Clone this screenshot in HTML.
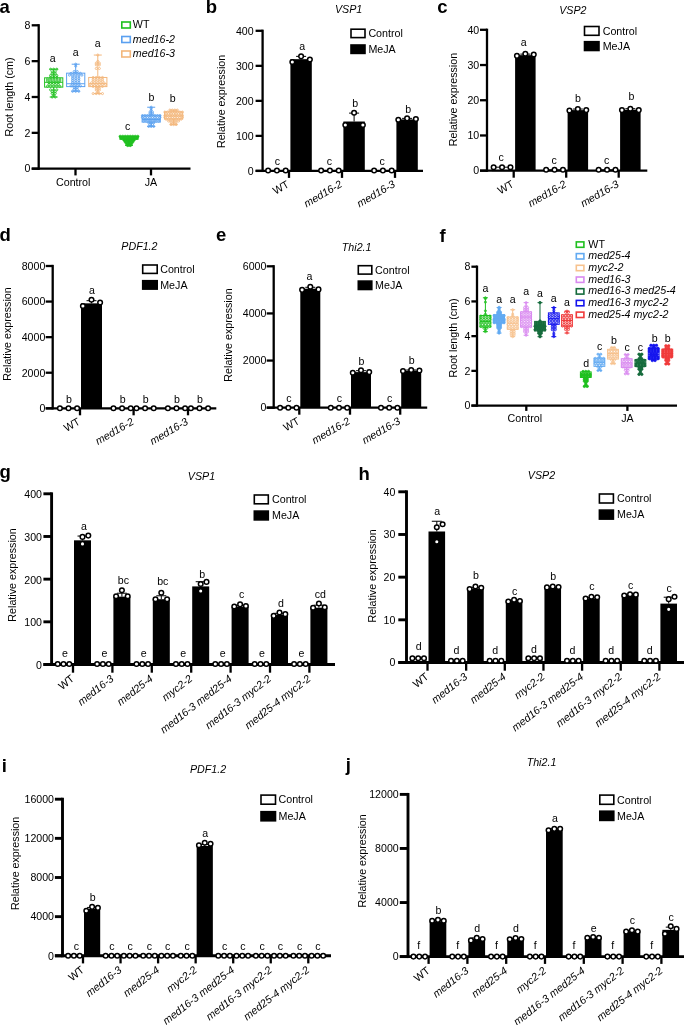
<!DOCTYPE html>
<html lang="en">
<head>
<meta charset="utf-8">
<title>Figure: JA responses in med16, med25 and myc2 mutants</title>
<style>
html,body{margin:0;padding:0;background:#fff;}
body{width:685px;height:1025px;overflow:hidden;}
svg{display:block;font-family:'Liberation Sans', Arial, sans-serif;}
svg text{white-space:pre;}
</style>
</head>
<body>
<svg width="685" height="1025" viewBox="0 0 685 1025">
<rect x="0" y="0" width="685" height="1025" fill="#ffffff"/>
<text x="-0.6" y="13.3" font-size="18.5" text-anchor="start" font-weight="bold" fill="#000">a</text>
<g stroke="#1fc01f" stroke-width="1" fill="none">
<line x1="53.7" y1="69.22" x2="53.7" y2="77.82"/>
<line x1="53.7" y1="87.14" x2="53.7" y2="97"/>
<line x1="49.7" y1="69.22" x2="57.7" y2="69.22"/>
<line x1="49.7" y1="97" x2="57.7" y2="97"/>
<rect x="44.6" y="77.82" width="18.2" height="9.32"/>
<line x1="44.6" y1="82.3" x2="62.8" y2="82.3"/>
</g>
<g fill="none" stroke="#1fc01f" stroke-width="0.85">
<circle cx="52.15" cy="97" r="1.05"/>
<circle cx="55.25" cy="97" r="1.05"/>
<circle cx="53.7" cy="95.21" r="1.05"/>
<circle cx="52.15" cy="93.41" r="1.05"/>
<circle cx="55.25" cy="93.41" r="1.05"/>
<circle cx="52.15" cy="91.62" r="1.05"/>
<circle cx="55.25" cy="91.62" r="1.05"/>
<circle cx="50.6" cy="89.83" r="1.05"/>
<circle cx="53.7" cy="89.83" r="1.05"/>
<circle cx="56.8" cy="89.83" r="1.05"/>
<circle cx="47.5" cy="86.25" r="1.05"/>
<circle cx="50.6" cy="86.25" r="1.05"/>
<circle cx="53.7" cy="86.25" r="1.05"/>
<circle cx="56.8" cy="86.25" r="1.05"/>
<circle cx="59.9" cy="86.25" r="1.05"/>
<circle cx="49.05" cy="84.45" r="1.05"/>
<circle cx="52.15" cy="84.45" r="1.05"/>
<circle cx="55.25" cy="84.45" r="1.05"/>
<circle cx="58.35" cy="84.45" r="1.05"/>
<circle cx="49.05" cy="82.66" r="1.05"/>
<circle cx="52.15" cy="82.66" r="1.05"/>
<circle cx="55.25" cy="82.66" r="1.05"/>
<circle cx="58.35" cy="82.66" r="1.05"/>
<circle cx="47.5" cy="80.87" r="1.05"/>
<circle cx="50.6" cy="80.87" r="1.05"/>
<circle cx="53.7" cy="80.87" r="1.05"/>
<circle cx="56.8" cy="80.87" r="1.05"/>
<circle cx="59.9" cy="80.87" r="1.05"/>
<circle cx="47.5" cy="79.08" r="1.05"/>
<circle cx="50.6" cy="79.08" r="1.05"/>
<circle cx="53.7" cy="79.08" r="1.05"/>
<circle cx="56.8" cy="79.08" r="1.05"/>
<circle cx="59.9" cy="79.08" r="1.05"/>
<circle cx="50.6" cy="77.28" r="1.05"/>
<circle cx="53.7" cy="77.28" r="1.05"/>
<circle cx="56.8" cy="77.28" r="1.05"/>
<circle cx="50.6" cy="75.49" r="1.05"/>
<circle cx="53.7" cy="75.49" r="1.05"/>
<circle cx="56.8" cy="75.49" r="1.05"/>
<circle cx="52.15" cy="73.7" r="1.05"/>
<circle cx="55.25" cy="73.7" r="1.05"/>
<circle cx="52.15" cy="71.91" r="1.05"/>
<circle cx="55.25" cy="71.91" r="1.05"/>
<circle cx="50.6" cy="69.22" r="1.05"/>
<circle cx="53.7" cy="69.22" r="1.05"/>
<circle cx="56.8" cy="69.22" r="1.05"/>
</g>
<text x="52.7" y="62.2" font-size="10.6" text-anchor="middle" fill="#000">a</text>
<g stroke="#5aa0f0" stroke-width="1" fill="none">
<line x1="75.7" y1="64.2" x2="75.7" y2="73.16"/>
<line x1="75.7" y1="86.6" x2="75.7" y2="91.26"/>
<line x1="71.7" y1="64.2" x2="79.7" y2="64.2"/>
<line x1="71.7" y1="91.26" x2="79.7" y2="91.26"/>
<rect x="66.6" y="73.16" width="18.2" height="13.44"/>
<line x1="66.6" y1="83.74" x2="84.8" y2="83.74"/>
</g>
<g fill="none" stroke="#5aa0f0" stroke-width="0.85">
<circle cx="72.6" cy="91.26" r="1.05"/>
<circle cx="75.7" cy="91.26" r="1.05"/>
<circle cx="78.8" cy="91.26" r="1.05"/>
<circle cx="74.15" cy="89.47" r="1.05"/>
<circle cx="77.25" cy="89.47" r="1.05"/>
<circle cx="74.15" cy="87.68" r="1.05"/>
<circle cx="77.25" cy="87.68" r="1.05"/>
<circle cx="71.05" cy="85.89" r="1.05"/>
<circle cx="74.15" cy="85.89" r="1.05"/>
<circle cx="77.25" cy="85.89" r="1.05"/>
<circle cx="80.35" cy="85.89" r="1.05"/>
<circle cx="72.6" cy="84.09" r="1.05"/>
<circle cx="75.7" cy="84.09" r="1.05"/>
<circle cx="78.8" cy="84.09" r="1.05"/>
<circle cx="72.6" cy="82.3" r="1.05"/>
<circle cx="75.7" cy="82.3" r="1.05"/>
<circle cx="78.8" cy="82.3" r="1.05"/>
<circle cx="72.6" cy="80.51" r="1.05"/>
<circle cx="75.7" cy="80.51" r="1.05"/>
<circle cx="78.8" cy="80.51" r="1.05"/>
<circle cx="72.6" cy="78.72" r="1.05"/>
<circle cx="75.7" cy="78.72" r="1.05"/>
<circle cx="78.8" cy="78.72" r="1.05"/>
<circle cx="72.6" cy="76.92" r="1.05"/>
<circle cx="75.7" cy="76.92" r="1.05"/>
<circle cx="78.8" cy="76.92" r="1.05"/>
<circle cx="69.5" cy="75.13" r="1.05"/>
<circle cx="72.6" cy="75.13" r="1.05"/>
<circle cx="75.7" cy="75.13" r="1.05"/>
<circle cx="78.8" cy="75.13" r="1.05"/>
<circle cx="81.9" cy="75.13" r="1.05"/>
<circle cx="71.05" cy="73.34" r="1.05"/>
<circle cx="74.15" cy="73.34" r="1.05"/>
<circle cx="77.25" cy="73.34" r="1.05"/>
<circle cx="80.35" cy="73.34" r="1.05"/>
<circle cx="74.15" cy="71.55" r="1.05"/>
<circle cx="77.25" cy="71.55" r="1.05"/>
<circle cx="75.7" cy="66.17" r="1.05"/>
<circle cx="75.7" cy="64.2" r="1.05"/>
</g>
<text x="75.7" y="56" font-size="10.6" text-anchor="middle" fill="#000">a</text>
<g stroke="#f3b77c" stroke-width="1" fill="none">
<line x1="97.8" y1="55.06" x2="97.8" y2="77.46"/>
<line x1="97.8" y1="86.6" x2="97.8" y2="93.59"/>
<line x1="93.8" y1="55.06" x2="101.8" y2="55.06"/>
<line x1="93.8" y1="93.59" x2="101.8" y2="93.59"/>
<rect x="88.7" y="77.46" width="18.2" height="9.14"/>
<line x1="88.7" y1="83.74" x2="106.9" y2="83.74"/>
</g>
<g fill="none" stroke="#f3b77c" stroke-width="0.85">
<circle cx="93.15" cy="93.59" r="1.05"/>
<circle cx="96.25" cy="93.59" r="1.05"/>
<circle cx="99.35" cy="93.59" r="1.05"/>
<circle cx="102.45" cy="93.59" r="1.05"/>
<circle cx="97.8" cy="91.8" r="1.05"/>
<circle cx="96.25" cy="90.01" r="1.05"/>
<circle cx="99.35" cy="90.01" r="1.05"/>
<circle cx="96.25" cy="88.22" r="1.05"/>
<circle cx="99.35" cy="88.22" r="1.05"/>
<circle cx="93.15" cy="86.42" r="1.05"/>
<circle cx="96.25" cy="86.42" r="1.05"/>
<circle cx="99.35" cy="86.42" r="1.05"/>
<circle cx="102.45" cy="86.42" r="1.05"/>
<circle cx="90.05" cy="84.63" r="1.05"/>
<circle cx="93.15" cy="84.63" r="1.05"/>
<circle cx="96.25" cy="84.63" r="1.05"/>
<circle cx="99.35" cy="84.63" r="1.05"/>
<circle cx="102.45" cy="84.63" r="1.05"/>
<circle cx="105.55" cy="84.63" r="1.05"/>
<circle cx="91.6" cy="82.84" r="1.05"/>
<circle cx="94.7" cy="82.84" r="1.05"/>
<circle cx="97.8" cy="82.84" r="1.05"/>
<circle cx="100.9" cy="82.84" r="1.05"/>
<circle cx="104" cy="82.84" r="1.05"/>
<circle cx="93.15" cy="81.05" r="1.05"/>
<circle cx="96.25" cy="81.05" r="1.05"/>
<circle cx="99.35" cy="81.05" r="1.05"/>
<circle cx="102.45" cy="81.05" r="1.05"/>
<circle cx="93.15" cy="79.25" r="1.05"/>
<circle cx="96.25" cy="79.25" r="1.05"/>
<circle cx="99.35" cy="79.25" r="1.05"/>
<circle cx="102.45" cy="79.25" r="1.05"/>
<circle cx="93.15" cy="77.46" r="1.05"/>
<circle cx="96.25" cy="77.46" r="1.05"/>
<circle cx="99.35" cy="77.46" r="1.05"/>
<circle cx="102.45" cy="77.46" r="1.05"/>
<circle cx="96.25" cy="68.5" r="1.05"/>
<circle cx="99.35" cy="68.5" r="1.05"/>
<circle cx="96.25" cy="64.91" r="1.05"/>
<circle cx="99.35" cy="64.91" r="1.05"/>
<circle cx="96.25" cy="63.12" r="1.05"/>
<circle cx="99.35" cy="63.12" r="1.05"/>
<circle cx="97.8" cy="61.33" r="1.05"/>
<circle cx="97.8" cy="55.06" r="1.05"/>
</g>
<text x="97.8" y="47.2" font-size="10.6" text-anchor="middle" fill="#000">a</text>
<g stroke="#1fc01f" stroke-width="1" fill="none">
<line x1="129" y1="136.44" x2="129" y2="136.44"/>
<line x1="129" y1="139.3" x2="129" y2="145.4"/>
<line x1="125" y1="136.44" x2="133" y2="136.44"/>
<line x1="125" y1="145.4" x2="133" y2="145.4"/>
<rect x="119.9" y="136.44" width="18.2" height="2.87"/>
<line x1="119.9" y1="138.23" x2="138.1" y2="138.23"/>
</g>
<g fill="#1fc01f" stroke="#1fc01f" stroke-width="0.6">
<circle cx="127.75" cy="145.4" r="1.3"/>
<circle cx="130.25" cy="145.4" r="1.3"/>
<circle cx="126.5" cy="143.6" r="1.3"/>
<circle cx="129" cy="143.6" r="1.3"/>
<circle cx="131.5" cy="143.6" r="1.3"/>
<circle cx="125.25" cy="141.81" r="1.3"/>
<circle cx="127.75" cy="141.81" r="1.3"/>
<circle cx="130.25" cy="141.81" r="1.3"/>
<circle cx="132.75" cy="141.81" r="1.3"/>
<circle cx="124" cy="140.02" r="1.3"/>
<circle cx="126.5" cy="140.02" r="1.3"/>
<circle cx="129" cy="140.02" r="1.3"/>
<circle cx="131.5" cy="140.02" r="1.3"/>
<circle cx="134" cy="140.02" r="1.3"/>
<circle cx="121.5" cy="138.23" r="1.3"/>
<circle cx="124" cy="138.23" r="1.3"/>
<circle cx="126.5" cy="138.23" r="1.3"/>
<circle cx="129" cy="138.23" r="1.3"/>
<circle cx="131.5" cy="138.23" r="1.3"/>
<circle cx="134" cy="138.23" r="1.3"/>
<circle cx="136.5" cy="138.23" r="1.3"/>
<circle cx="120.25" cy="136.44" r="1.3"/>
<circle cx="122.75" cy="136.44" r="1.3"/>
<circle cx="125.25" cy="136.44" r="1.3"/>
<circle cx="127.75" cy="136.44" r="1.3"/>
<circle cx="130.25" cy="136.44" r="1.3"/>
<circle cx="132.75" cy="136.44" r="1.3"/>
<circle cx="135.25" cy="136.44" r="1.3"/>
<circle cx="137.75" cy="136.44" r="1.3"/>
</g>
<text x="127.7" y="129.5" font-size="10.6" text-anchor="middle" fill="#000">c</text>
<g stroke="#5aa0f0" stroke-width="1" fill="none">
<line x1="151.2" y1="107.22" x2="151.2" y2="115.28"/>
<line x1="151.2" y1="122.09" x2="151.2" y2="126.4"/>
<line x1="147.2" y1="107.22" x2="155.2" y2="107.22"/>
<line x1="147.2" y1="126.4" x2="155.2" y2="126.4"/>
<rect x="142.1" y="115.28" width="18.2" height="6.81"/>
<line x1="142.1" y1="119.41" x2="160.3" y2="119.41"/>
</g>
<g fill="none" stroke="#5aa0f0" stroke-width="0.85">
<circle cx="148.7" cy="126.4" r="1.05"/>
<circle cx="151.2" cy="126.4" r="1.05"/>
<circle cx="153.7" cy="126.4" r="1.05"/>
<circle cx="149.95" cy="124.6" r="1.05"/>
<circle cx="152.45" cy="124.6" r="1.05"/>
<circle cx="148.7" cy="122.81" r="1.05"/>
<circle cx="151.2" cy="122.81" r="1.05"/>
<circle cx="153.7" cy="122.81" r="1.05"/>
<circle cx="143.7" cy="121.02" r="1.05"/>
<circle cx="146.2" cy="121.02" r="1.05"/>
<circle cx="148.7" cy="121.02" r="1.05"/>
<circle cx="151.2" cy="121.02" r="1.05"/>
<circle cx="153.7" cy="121.02" r="1.05"/>
<circle cx="156.2" cy="121.02" r="1.05"/>
<circle cx="158.7" cy="121.02" r="1.05"/>
<circle cx="143.7" cy="119.23" r="1.05"/>
<circle cx="146.2" cy="119.23" r="1.05"/>
<circle cx="148.7" cy="119.23" r="1.05"/>
<circle cx="151.2" cy="119.23" r="1.05"/>
<circle cx="153.7" cy="119.23" r="1.05"/>
<circle cx="156.2" cy="119.23" r="1.05"/>
<circle cx="158.7" cy="119.23" r="1.05"/>
<circle cx="142.45" cy="117.43" r="1.05"/>
<circle cx="144.95" cy="117.43" r="1.05"/>
<circle cx="147.45" cy="117.43" r="1.05"/>
<circle cx="149.95" cy="117.43" r="1.05"/>
<circle cx="152.45" cy="117.43" r="1.05"/>
<circle cx="154.95" cy="117.43" r="1.05"/>
<circle cx="157.45" cy="117.43" r="1.05"/>
<circle cx="159.95" cy="117.43" r="1.05"/>
<circle cx="142.45" cy="115.64" r="1.05"/>
<circle cx="144.95" cy="115.64" r="1.05"/>
<circle cx="147.45" cy="115.64" r="1.05"/>
<circle cx="149.95" cy="115.64" r="1.05"/>
<circle cx="152.45" cy="115.64" r="1.05"/>
<circle cx="154.95" cy="115.64" r="1.05"/>
<circle cx="157.45" cy="115.64" r="1.05"/>
<circle cx="159.95" cy="115.64" r="1.05"/>
<circle cx="149.95" cy="113.85" r="1.05"/>
<circle cx="152.45" cy="113.85" r="1.05"/>
<circle cx="149.95" cy="112.06" r="1.05"/>
<circle cx="152.45" cy="112.06" r="1.05"/>
<circle cx="151.2" cy="110.26" r="1.05"/>
<circle cx="151.2" cy="108.47" r="1.05"/>
<circle cx="151.2" cy="107.22" r="1.05"/>
</g>
<text x="151.5" y="100.9" font-size="10.6" text-anchor="middle" fill="#000">b</text>
<g stroke="#f3b77c" stroke-width="1" fill="none">
<line x1="173.6" y1="110.09" x2="173.6" y2="111.88"/>
<line x1="173.6" y1="119.05" x2="173.6" y2="124.6"/>
<line x1="169.6" y1="110.09" x2="177.6" y2="110.09"/>
<line x1="169.6" y1="124.6" x2="177.6" y2="124.6"/>
<rect x="164.5" y="111.88" width="18.2" height="7.17"/>
<line x1="164.5" y1="115.82" x2="182.7" y2="115.82"/>
</g>
<g fill="none" stroke="#f3b77c" stroke-width="0.85">
<circle cx="171.1" cy="124.6" r="1.05"/>
<circle cx="173.6" cy="124.6" r="1.05"/>
<circle cx="176.1" cy="124.6" r="1.05"/>
<circle cx="171.1" cy="122.81" r="1.05"/>
<circle cx="173.6" cy="122.81" r="1.05"/>
<circle cx="176.1" cy="122.81" r="1.05"/>
<circle cx="168.6" cy="121.02" r="1.05"/>
<circle cx="171.1" cy="121.02" r="1.05"/>
<circle cx="173.6" cy="121.02" r="1.05"/>
<circle cx="176.1" cy="121.02" r="1.05"/>
<circle cx="178.6" cy="121.02" r="1.05"/>
<circle cx="166.1" cy="119.23" r="1.05"/>
<circle cx="168.6" cy="119.23" r="1.05"/>
<circle cx="171.1" cy="119.23" r="1.05"/>
<circle cx="173.6" cy="119.23" r="1.05"/>
<circle cx="176.1" cy="119.23" r="1.05"/>
<circle cx="178.6" cy="119.23" r="1.05"/>
<circle cx="181.1" cy="119.23" r="1.05"/>
<circle cx="164.85" cy="117.43" r="1.05"/>
<circle cx="167.35" cy="117.43" r="1.05"/>
<circle cx="169.85" cy="117.43" r="1.05"/>
<circle cx="172.35" cy="117.43" r="1.05"/>
<circle cx="174.85" cy="117.43" r="1.05"/>
<circle cx="177.35" cy="117.43" r="1.05"/>
<circle cx="179.85" cy="117.43" r="1.05"/>
<circle cx="182.35" cy="117.43" r="1.05"/>
<circle cx="164.85" cy="115.64" r="1.05"/>
<circle cx="167.35" cy="115.64" r="1.05"/>
<circle cx="169.85" cy="115.64" r="1.05"/>
<circle cx="172.35" cy="115.64" r="1.05"/>
<circle cx="174.85" cy="115.64" r="1.05"/>
<circle cx="177.35" cy="115.64" r="1.05"/>
<circle cx="179.85" cy="115.64" r="1.05"/>
<circle cx="182.35" cy="115.64" r="1.05"/>
<circle cx="166.1" cy="113.85" r="1.05"/>
<circle cx="168.6" cy="113.85" r="1.05"/>
<circle cx="171.1" cy="113.85" r="1.05"/>
<circle cx="173.6" cy="113.85" r="1.05"/>
<circle cx="176.1" cy="113.85" r="1.05"/>
<circle cx="178.6" cy="113.85" r="1.05"/>
<circle cx="181.1" cy="113.85" r="1.05"/>
<circle cx="164.85" cy="112.06" r="1.05"/>
<circle cx="167.35" cy="112.06" r="1.05"/>
<circle cx="169.85" cy="112.06" r="1.05"/>
<circle cx="172.35" cy="112.06" r="1.05"/>
<circle cx="174.85" cy="112.06" r="1.05"/>
<circle cx="177.35" cy="112.06" r="1.05"/>
<circle cx="179.85" cy="112.06" r="1.05"/>
<circle cx="182.35" cy="112.06" r="1.05"/>
<circle cx="169.85" cy="110.09" r="1.05"/>
<circle cx="172.35" cy="110.09" r="1.05"/>
<circle cx="174.85" cy="110.09" r="1.05"/>
<circle cx="177.35" cy="110.09" r="1.05"/>
</g>
<text x="172.8" y="102.3" font-size="10.6" text-anchor="middle" fill="#000">b</text>
<line x1="31.7" y1="168.7" x2="190.5" y2="168.7" stroke="#000" stroke-width="2.3" stroke-linecap="butt"/>
<line x1="75.5" y1="168.7" x2="75.5" y2="175.4" stroke="#000" stroke-width="2.3" stroke-linecap="butt"/>
<text x="73.2" y="185.8" font-size="10.7" text-anchor="middle" fill="#000">Control</text>
<line x1="151" y1="168.7" x2="151" y2="175.4" stroke="#000" stroke-width="2.3" stroke-linecap="butt"/>
<text x="151" y="185.8" font-size="10.7" text-anchor="middle" fill="#000">JA</text>
<line x1="38.7" y1="24.15" x2="38.7" y2="169.85" stroke="#000" stroke-width="2.3" stroke-linecap="butt"/>
<line x1="31.7" y1="168.7" x2="38.7" y2="168.7" stroke="#000" stroke-width="2.3" stroke-linecap="butt"/>
<text x="30.5" y="172.49" font-size="10.6" text-anchor="end" fill="#000">0</text>
<line x1="31.7" y1="132.85" x2="38.7" y2="132.85" stroke="#000" stroke-width="2.3" stroke-linecap="butt"/>
<text x="30.5" y="136.64" font-size="10.6" text-anchor="end" fill="#000">2</text>
<line x1="31.7" y1="97" x2="38.7" y2="97" stroke="#000" stroke-width="2.3" stroke-linecap="butt"/>
<text x="30.5" y="100.79" font-size="10.6" text-anchor="end" fill="#000">4</text>
<line x1="31.7" y1="61.15" x2="38.7" y2="61.15" stroke="#000" stroke-width="2.3" stroke-linecap="butt"/>
<text x="30.5" y="64.94" font-size="10.6" text-anchor="end" fill="#000">6</text>
<line x1="31.7" y1="25.3" x2="38.7" y2="25.3" stroke="#000" stroke-width="2.3" stroke-linecap="butt"/>
<text x="30.5" y="29.09" font-size="10.6" text-anchor="end" fill="#000">8</text>
<text x="12.8" y="97" font-size="10.7" text-anchor="middle" transform="rotate(-90 12.8 97)" fill="#000">Root length (cm)</text>
<rect x="121.8" y="22" width="8.5" height="6" fill="none" stroke="#1fc01f" stroke-width="1.6"/>
<text x="132.8" y="28.2" font-size="10.7" text-anchor="start" fill="#000">WT</text>
<rect x="121.8" y="36.5" width="8.5" height="6" fill="none" stroke="#5aa0f0" stroke-width="1.6"/>
<text x="132.8" y="42.7" font-size="10.7" text-anchor="start" font-style="italic" fill="#000">med16-2</text>
<rect x="121.8" y="51" width="8.5" height="6" fill="none" stroke="#f3b77c" stroke-width="1.6"/>
<text x="132.8" y="57.2" font-size="10.7" text-anchor="start" font-style="italic" fill="#000">med16-3</text>
<text x="205.8" y="13.3" font-size="18.5" text-anchor="start" font-weight="bold" fill="#000">b</text>
<text x="348.6" y="13.4" font-size="10.7" text-anchor="middle" font-style="italic" fill="#000">VSP1</text>
<rect x="290.4" y="59.17" width="21.4" height="111.73" fill="#000" stroke="none" stroke-width="1"/>
<line x1="301.1" y1="56.37" x2="301.1" y2="59.17" stroke="#000" stroke-width="1" stroke-linecap="butt"/>
<line x1="296.1" y1="56.37" x2="306.1" y2="56.37" stroke="#000" stroke-width="1" stroke-linecap="butt"/>
<rect x="343.4" y="121.51" width="21.4" height="49.39" fill="#000" stroke="none" stroke-width="1"/>
<line x1="354.1" y1="113.11" x2="354.1" y2="121.51" stroke="#000" stroke-width="1" stroke-linecap="butt"/>
<line x1="349.1" y1="113.11" x2="359.1" y2="113.11" stroke="#000" stroke-width="1" stroke-linecap="butt"/>
<rect x="396.4" y="119.41" width="21.4" height="51.49" fill="#000" stroke="none" stroke-width="1"/>
<line x1="407.1" y1="118.36" x2="407.1" y2="119.41" stroke="#000" stroke-width="1" stroke-linecap="butt"/>
<line x1="402.1" y1="118.36" x2="412.1" y2="118.36" stroke="#000" stroke-width="1" stroke-linecap="butt"/>
<line x1="255.6" y1="170.9" x2="423" y2="170.9" stroke="#000" stroke-width="2.3" stroke-linecap="butt"/>
<line x1="289" y1="170.9" x2="289" y2="177.9" stroke="#000" stroke-width="2.3" stroke-linecap="butt"/>
<line x1="342" y1="170.9" x2="342" y2="177.9" stroke="#000" stroke-width="2.3" stroke-linecap="butt"/>
<line x1="395" y1="170.9" x2="395" y2="177.9" stroke="#000" stroke-width="2.3" stroke-linecap="butt"/>
<line x1="262.6" y1="29.65" x2="262.6" y2="172.05" stroke="#000" stroke-width="2.3" stroke-linecap="butt"/>
<line x1="255.6" y1="170.9" x2="262.6" y2="170.9" stroke="#000" stroke-width="2.3" stroke-linecap="butt"/>
<text x="253.6" y="174.69" font-size="10.6" text-anchor="end" fill="#000">0</text>
<line x1="255.6" y1="135.88" x2="262.6" y2="135.88" stroke="#000" stroke-width="2.3" stroke-linecap="butt"/>
<text x="253.6" y="139.67" font-size="10.6" text-anchor="end" fill="#000">100</text>
<line x1="255.6" y1="100.85" x2="262.6" y2="100.85" stroke="#000" stroke-width="2.3" stroke-linecap="butt"/>
<text x="253.6" y="104.64" font-size="10.6" text-anchor="end" fill="#000">200</text>
<line x1="255.6" y1="65.83" x2="262.6" y2="65.83" stroke="#000" stroke-width="2.3" stroke-linecap="butt"/>
<text x="253.6" y="69.62" font-size="10.6" text-anchor="end" fill="#000">300</text>
<line x1="255.6" y1="30.8" x2="262.6" y2="30.8" stroke="#000" stroke-width="2.3" stroke-linecap="butt"/>
<text x="253.6" y="34.59" font-size="10.6" text-anchor="end" fill="#000">400</text>
<text x="225" y="101.4" font-size="10.7" text-anchor="middle" transform="rotate(-90 225 101.4)" fill="#000">Relative expression</text>
<circle cx="268.13" cy="170.55" r="2.3" fill="#fff" stroke="#000" stroke-width="1.5"/>
<circle cx="276.9" cy="170.55" r="2.3" fill="#fff" stroke="#000" stroke-width="1.5"/>
<circle cx="285.67" cy="170.55" r="2.3" fill="#fff" stroke="#000" stroke-width="1.5"/>
<circle cx="292.33" cy="61.97" r="2.3" fill="#fff" stroke="#000" stroke-width="1.5"/>
<circle cx="301.1" cy="56.37" r="2.3" fill="#fff" stroke="#000" stroke-width="1.5"/>
<circle cx="309.87" cy="59.52" r="2.3" fill="#fff" stroke="#000" stroke-width="1.5"/>
<text x="277.4" y="165.05" font-size="10.6" text-anchor="middle" fill="#000">c</text>
<text x="302.1" y="49.87" font-size="10.6" text-anchor="middle" fill="#000">a</text>
<text x="290" y="186.4" font-size="10.7" text-anchor="end" transform="rotate(-30 290 186.4)" fill="#000">WT</text>
<circle cx="321.13" cy="170.55" r="2.3" fill="#fff" stroke="#000" stroke-width="1.5"/>
<circle cx="329.9" cy="170.55" r="2.3" fill="#fff" stroke="#000" stroke-width="1.5"/>
<circle cx="338.67" cy="170.55" r="2.3" fill="#fff" stroke="#000" stroke-width="1.5"/>
<circle cx="345.33" cy="125.02" r="2.3" fill="#fff" stroke="#000" stroke-width="1.5"/>
<circle cx="354.1" cy="112.76" r="2.3" fill="#fff" stroke="#000" stroke-width="1.5"/>
<circle cx="362.87" cy="125.02" r="2.3" fill="#fff" stroke="#000" stroke-width="1.5"/>
<text x="329.4" y="165.05" font-size="10.6" text-anchor="middle" fill="#000">c</text>
<text x="355.1" y="107.26" font-size="10.6" text-anchor="middle" fill="#000">b</text>
<text x="343" y="186.4" font-size="10.7" text-anchor="end" font-style="italic" transform="rotate(-30 343 186.4)" fill="#000">med16-2</text>
<circle cx="374.13" cy="170.55" r="2.3" fill="#fff" stroke="#000" stroke-width="1.5"/>
<circle cx="382.9" cy="170.55" r="2.3" fill="#fff" stroke="#000" stroke-width="1.5"/>
<circle cx="391.67" cy="170.55" r="2.3" fill="#fff" stroke="#000" stroke-width="1.5"/>
<circle cx="398.33" cy="119.76" r="2.3" fill="#fff" stroke="#000" stroke-width="1.5"/>
<circle cx="407.1" cy="118.36" r="2.3" fill="#fff" stroke="#000" stroke-width="1.5"/>
<circle cx="415.87" cy="119.06" r="2.3" fill="#fff" stroke="#000" stroke-width="1.5"/>
<text x="382.2" y="165.05" font-size="10.6" text-anchor="middle" fill="#000">c</text>
<text x="408.1" y="112.86" font-size="10.6" text-anchor="middle" fill="#000">b</text>
<text x="396" y="186.4" font-size="10.7" text-anchor="end" font-style="italic" transform="rotate(-30 396 186.4)" fill="#000">med16-3</text>
<rect x="351" y="29.2" width="14" height="8.4" fill="#fff" stroke="#000" stroke-width="1.6"/>
<text x="368.4" y="37.23" font-size="10.7" text-anchor="start" fill="#000">Control</text>
<rect x="351" y="45" width="14" height="8.4" fill="#000" stroke="#000" stroke-width="1.6"/>
<text x="368.4" y="53.03" font-size="10.7" text-anchor="start" fill="#000">MeJA</text>
<text x="437.3" y="13.3" font-size="18.5" text-anchor="start" font-weight="bold" fill="#000">c</text>
<text x="572.8" y="13.7" font-size="10.7" text-anchor="middle" font-style="italic" fill="#000">VSP2</text>
<rect x="492.3" y="167.18" width="19.5" height="3.52" fill="#fff" stroke="#000" stroke-width="1"/>
<rect x="515.1" y="55.16" width="20.5" height="115.54" fill="#000" stroke="none" stroke-width="1"/>
<line x1="525.35" y1="54.11" x2="525.35" y2="55.16" stroke="#000" stroke-width="1" stroke-linecap="butt"/>
<line x1="520.35" y1="54.11" x2="530.35" y2="54.11" stroke="#000" stroke-width="1" stroke-linecap="butt"/>
<rect x="544.8" y="169.82" width="19.5" height="0.88" fill="#fff" stroke="#000" stroke-width="1"/>
<rect x="567.6" y="110.11" width="20.5" height="60.59" fill="#000" stroke="none" stroke-width="1"/>
<line x1="577.85" y1="109.06" x2="577.85" y2="110.11" stroke="#000" stroke-width="1" stroke-linecap="butt"/>
<line x1="572.85" y1="109.06" x2="582.85" y2="109.06" stroke="#000" stroke-width="1" stroke-linecap="butt"/>
<rect x="597.3" y="169.82" width="19.5" height="0.88" fill="#fff" stroke="#000" stroke-width="1"/>
<rect x="620.1" y="109.76" width="20.5" height="60.94" fill="#000" stroke="none" stroke-width="1"/>
<line x1="630.35" y1="108.7" x2="630.35" y2="109.76" stroke="#000" stroke-width="1" stroke-linecap="butt"/>
<line x1="625.35" y1="108.7" x2="635.35" y2="108.7" stroke="#000" stroke-width="1" stroke-linecap="butt"/>
<line x1="480" y1="170.7" x2="647.3" y2="170.7" stroke="#000" stroke-width="2.3" stroke-linecap="butt"/>
<line x1="513.7" y1="170.7" x2="513.7" y2="177.7" stroke="#000" stroke-width="2.3" stroke-linecap="butt"/>
<line x1="566.2" y1="170.7" x2="566.2" y2="177.7" stroke="#000" stroke-width="2.3" stroke-linecap="butt"/>
<line x1="618.7" y1="170.7" x2="618.7" y2="177.7" stroke="#000" stroke-width="2.3" stroke-linecap="butt"/>
<line x1="487" y1="28.65" x2="487" y2="171.85" stroke="#000" stroke-width="2.3" stroke-linecap="butt"/>
<line x1="480" y1="170.7" x2="487" y2="170.7" stroke="#000" stroke-width="2.3" stroke-linecap="butt"/>
<text x="479.2" y="174.49" font-size="10.6" text-anchor="end" fill="#000">0</text>
<line x1="480" y1="135.47" x2="487" y2="135.47" stroke="#000" stroke-width="2.3" stroke-linecap="butt"/>
<text x="479.2" y="139.27" font-size="10.6" text-anchor="end" fill="#000">10</text>
<line x1="480" y1="100.25" x2="487" y2="100.25" stroke="#000" stroke-width="2.3" stroke-linecap="butt"/>
<text x="479.2" y="104.04" font-size="10.6" text-anchor="end" fill="#000">20</text>
<line x1="480" y1="65.03" x2="487" y2="65.03" stroke="#000" stroke-width="2.3" stroke-linecap="butt"/>
<text x="479.2" y="68.82" font-size="10.6" text-anchor="end" fill="#000">30</text>
<line x1="480" y1="29.8" x2="487" y2="29.8" stroke="#000" stroke-width="2.3" stroke-linecap="butt"/>
<text x="479.2" y="33.59" font-size="10.6" text-anchor="end" fill="#000">40</text>
<text x="457" y="99.5" font-size="10.7" text-anchor="middle" transform="rotate(-90 457 99.5)" fill="#000">Relative expression</text>
<circle cx="493.65" cy="167.18" r="2.3" fill="#fff" stroke="#000" stroke-width="1.5"/>
<circle cx="502.05" cy="167.18" r="2.3" fill="#fff" stroke="#000" stroke-width="1.5"/>
<circle cx="510.46" cy="167.18" r="2.3" fill="#fff" stroke="#000" stroke-width="1.5"/>
<circle cx="516.95" cy="55.87" r="2.3" fill="#fff" stroke="#000" stroke-width="1.5"/>
<circle cx="525.35" cy="53.75" r="2.3" fill="#fff" stroke="#000" stroke-width="1.5"/>
<circle cx="533.75" cy="54.46" r="2.3" fill="#fff" stroke="#000" stroke-width="1.5"/>
<text x="501.05" y="160.98" font-size="10.6" text-anchor="middle" fill="#000">c</text>
<text x="523.65" y="45.65" font-size="10.6" text-anchor="middle" fill="#000">a</text>
<text x="514.7" y="186.2" font-size="10.7" text-anchor="end" transform="rotate(-30 514.7 186.2)" fill="#000">WT</text>
<circle cx="546.15" cy="169.82" r="2.3" fill="#fff" stroke="#000" stroke-width="1.5"/>
<circle cx="554.55" cy="169.82" r="2.3" fill="#fff" stroke="#000" stroke-width="1.5"/>
<circle cx="562.96" cy="169.82" r="2.3" fill="#fff" stroke="#000" stroke-width="1.5"/>
<circle cx="569.45" cy="110.47" r="2.3" fill="#fff" stroke="#000" stroke-width="1.5"/>
<circle cx="577.85" cy="109.06" r="2.3" fill="#fff" stroke="#000" stroke-width="1.5"/>
<circle cx="586.25" cy="110.11" r="2.3" fill="#fff" stroke="#000" stroke-width="1.5"/>
<text x="554.25" y="163.52" font-size="10.6" text-anchor="middle" fill="#000">c</text>
<text x="577.95" y="102.46" font-size="10.6" text-anchor="middle" fill="#000">b</text>
<text x="567.2" y="186.2" font-size="10.7" text-anchor="end" font-style="italic" transform="rotate(-30 567.2 186.2)" fill="#000">med16-2</text>
<circle cx="598.65" cy="169.82" r="2.3" fill="#fff" stroke="#000" stroke-width="1.5"/>
<circle cx="607.05" cy="169.82" r="2.3" fill="#fff" stroke="#000" stroke-width="1.5"/>
<circle cx="615.46" cy="169.82" r="2.3" fill="#fff" stroke="#000" stroke-width="1.5"/>
<circle cx="621.95" cy="110.11" r="2.3" fill="#fff" stroke="#000" stroke-width="1.5"/>
<circle cx="630.35" cy="108.7" r="2.3" fill="#fff" stroke="#000" stroke-width="1.5"/>
<circle cx="638.75" cy="110.11" r="2.3" fill="#fff" stroke="#000" stroke-width="1.5"/>
<text x="606.75" y="163.52" font-size="10.6" text-anchor="middle" fill="#000">c</text>
<text x="631.45" y="99.8" font-size="10.6" text-anchor="middle" fill="#000">b</text>
<text x="619.7" y="186.2" font-size="10.7" text-anchor="end" font-style="italic" transform="rotate(-30 619.7 186.2)" fill="#000">med16-3</text>
<rect x="584.5" y="26.5" width="14.5" height="8.8" fill="#fff" stroke="#000" stroke-width="1.6"/>
<text x="602.7" y="34.73" font-size="10.7" text-anchor="start" fill="#000">Control</text>
<rect x="584.5" y="41.7" width="14.5" height="8.8" fill="#000" stroke="#000" stroke-width="1.6"/>
<text x="602.7" y="49.93" font-size="10.7" text-anchor="start" fill="#000">MeJA</text>
<text x="-0.5" y="240.8" font-size="18.5" text-anchor="start" font-weight="bold" fill="#000">d</text>
<text x="139.4" y="249.9" font-size="10.7" text-anchor="middle" font-style="italic" fill="#000">PDF1.2</text>
<rect x="81" y="303.35" width="21" height="104.95" fill="#000" stroke="none" stroke-width="1"/>
<line x1="91.5" y1="300.69" x2="91.5" y2="303.35" stroke="#000" stroke-width="1" stroke-linecap="butt"/>
<line x1="86.5" y1="300.69" x2="96.5" y2="300.69" stroke="#000" stroke-width="1" stroke-linecap="butt"/>
<line x1="45.7" y1="408.3" x2="216.3" y2="408.3" stroke="#000" stroke-width="2.3" stroke-linecap="butt"/>
<line x1="80" y1="408.3" x2="80" y2="415.3" stroke="#000" stroke-width="2.3" stroke-linecap="butt"/>
<line x1="133.6" y1="408.3" x2="133.6" y2="415.3" stroke="#000" stroke-width="2.3" stroke-linecap="butt"/>
<line x1="188" y1="408.3" x2="188" y2="415.3" stroke="#000" stroke-width="2.3" stroke-linecap="butt"/>
<line x1="52.7" y1="264.85" x2="52.7" y2="409.45" stroke="#000" stroke-width="2.3" stroke-linecap="butt"/>
<line x1="45.7" y1="408.3" x2="52.7" y2="408.3" stroke="#000" stroke-width="2.3" stroke-linecap="butt"/>
<text x="45.3" y="412.09" font-size="10.6" text-anchor="end" fill="#000">0</text>
<line x1="45.7" y1="372.73" x2="52.7" y2="372.73" stroke="#000" stroke-width="2.3" stroke-linecap="butt"/>
<text x="45.3" y="376.52" font-size="10.6" text-anchor="end" fill="#000">2000</text>
<line x1="45.7" y1="337.15" x2="52.7" y2="337.15" stroke="#000" stroke-width="2.3" stroke-linecap="butt"/>
<text x="45.3" y="340.94" font-size="10.6" text-anchor="end" fill="#000">4000</text>
<line x1="45.7" y1="301.57" x2="52.7" y2="301.57" stroke="#000" stroke-width="2.3" stroke-linecap="butt"/>
<text x="45.3" y="305.37" font-size="10.6" text-anchor="end" fill="#000">6000</text>
<line x1="45.7" y1="266" x2="52.7" y2="266" stroke="#000" stroke-width="2.3" stroke-linecap="butt"/>
<text x="45.3" y="269.79" font-size="10.6" text-anchor="end" fill="#000">8000</text>
<text x="11" y="334" font-size="10.7" text-anchor="middle" transform="rotate(-90 11 334)" fill="#000">Relative expression</text>
<circle cx="59.89" cy="408.28" r="2.3" fill="#fff" stroke="#000" stroke-width="1.5"/>
<circle cx="68.5" cy="408.28" r="2.3" fill="#fff" stroke="#000" stroke-width="1.5"/>
<circle cx="77.11" cy="408.28" r="2.3" fill="#fff" stroke="#000" stroke-width="1.5"/>
<circle cx="82.89" cy="306.02" r="2.3" fill="#fff" stroke="#000" stroke-width="1.5"/>
<circle cx="91.5" cy="299.8" r="2.3" fill="#fff" stroke="#000" stroke-width="1.5"/>
<circle cx="100.11" cy="302.46" r="2.3" fill="#fff" stroke="#000" stroke-width="1.5"/>
<text x="69" y="402.78" font-size="10.6" text-anchor="middle" fill="#000">b</text>
<text x="92" y="294.3" font-size="10.6" text-anchor="middle" fill="#000">a</text>
<text x="81" y="423.8" font-size="10.7" text-anchor="end" transform="rotate(-30 81 423.8)" fill="#000">WT</text>
<circle cx="113.49" cy="408.28" r="2.3" fill="#fff" stroke="#000" stroke-width="1.5"/>
<circle cx="122.1" cy="408.28" r="2.3" fill="#fff" stroke="#000" stroke-width="1.5"/>
<circle cx="130.71" cy="408.28" r="2.3" fill="#fff" stroke="#000" stroke-width="1.5"/>
<circle cx="136.49" cy="408.28" r="2.3" fill="#fff" stroke="#000" stroke-width="1.5"/>
<circle cx="145.1" cy="408.28" r="2.3" fill="#fff" stroke="#000" stroke-width="1.5"/>
<circle cx="153.71" cy="408.28" r="2.3" fill="#fff" stroke="#000" stroke-width="1.5"/>
<text x="122.6" y="402.78" font-size="10.6" text-anchor="middle" fill="#000">b</text>
<text x="145.6" y="402.78" font-size="10.6" text-anchor="middle" fill="#000">b</text>
<text x="134.6" y="423.8" font-size="10.7" text-anchor="end" font-style="italic" transform="rotate(-30 134.6 423.8)" fill="#000">med16-2</text>
<circle cx="167.89" cy="408.28" r="2.3" fill="#fff" stroke="#000" stroke-width="1.5"/>
<circle cx="176.5" cy="408.28" r="2.3" fill="#fff" stroke="#000" stroke-width="1.5"/>
<circle cx="185.11" cy="408.28" r="2.3" fill="#fff" stroke="#000" stroke-width="1.5"/>
<circle cx="190.89" cy="408.28" r="2.3" fill="#fff" stroke="#000" stroke-width="1.5"/>
<circle cx="199.5" cy="408.28" r="2.3" fill="#fff" stroke="#000" stroke-width="1.5"/>
<circle cx="208.11" cy="408.28" r="2.3" fill="#fff" stroke="#000" stroke-width="1.5"/>
<text x="177" y="402.78" font-size="10.6" text-anchor="middle" fill="#000">b</text>
<text x="200" y="402.78" font-size="10.6" text-anchor="middle" fill="#000">b</text>
<text x="189" y="423.8" font-size="10.7" text-anchor="end" font-style="italic" transform="rotate(-30 189 423.8)" fill="#000">med16-3</text>
<rect x="142.7" y="265" width="14.5" height="8.4" fill="#fff" stroke="#000" stroke-width="1.6"/>
<text x="160.2" y="273.03" font-size="10.7" text-anchor="start" fill="#000">Control</text>
<rect x="142.7" y="280.7" width="14.5" height="8.4" fill="#000" stroke="#000" stroke-width="1.6"/>
<text x="160.2" y="288.73" font-size="10.7" text-anchor="start" fill="#000">MeJA</text>
<text x="216" y="240.8" font-size="18.5" text-anchor="start" font-weight="bold" fill="#000">e</text>
<text x="356.7" y="250.6" font-size="10.7" text-anchor="middle" font-style="italic" fill="#000">Thi2.1</text>
<rect x="300.3" y="288.69" width="20" height="119.01" fill="#000" stroke="none" stroke-width="1"/>
<line x1="310.3" y1="287.27" x2="310.3" y2="288.69" stroke="#000" stroke-width="1" stroke-linecap="butt"/>
<line x1="305.3" y1="287.27" x2="315.3" y2="287.27" stroke="#000" stroke-width="1" stroke-linecap="butt"/>
<rect x="351" y="372.11" width="20" height="35.59" fill="#000" stroke="none" stroke-width="1"/>
<line x1="361" y1="370.7" x2="361" y2="372.11" stroke="#000" stroke-width="1" stroke-linecap="butt"/>
<line x1="356" y1="370.7" x2="366" y2="370.7" stroke="#000" stroke-width="1" stroke-linecap="butt"/>
<rect x="401.2" y="370.7" width="20" height="37" fill="#000" stroke="none" stroke-width="1"/>
<line x1="411.2" y1="369.99" x2="411.2" y2="370.7" stroke="#000" stroke-width="1" stroke-linecap="butt"/>
<line x1="406.2" y1="369.99" x2="416.2" y2="369.99" stroke="#000" stroke-width="1" stroke-linecap="butt"/>
<line x1="266.7" y1="407.7" x2="427.2" y2="407.7" stroke="#000" stroke-width="2.3" stroke-linecap="butt"/>
<line x1="299.3" y1="407.7" x2="299.3" y2="414.7" stroke="#000" stroke-width="2.3" stroke-linecap="butt"/>
<line x1="350" y1="407.7" x2="350" y2="414.7" stroke="#000" stroke-width="2.3" stroke-linecap="butt"/>
<line x1="400.2" y1="407.7" x2="400.2" y2="414.7" stroke="#000" stroke-width="2.3" stroke-linecap="butt"/>
<line x1="273.7" y1="265.15" x2="273.7" y2="408.85" stroke="#000" stroke-width="2.3" stroke-linecap="butt"/>
<line x1="266.7" y1="407.7" x2="273.7" y2="407.7" stroke="#000" stroke-width="2.3" stroke-linecap="butt"/>
<text x="266.4" y="411.49" font-size="10.6" text-anchor="end" fill="#000">0</text>
<line x1="266.7" y1="360.57" x2="273.7" y2="360.57" stroke="#000" stroke-width="2.3" stroke-linecap="butt"/>
<text x="266.4" y="364.36" font-size="10.6" text-anchor="end" fill="#000">2000</text>
<line x1="266.7" y1="313.43" x2="273.7" y2="313.43" stroke="#000" stroke-width="2.3" stroke-linecap="butt"/>
<text x="266.4" y="317.23" font-size="10.6" text-anchor="end" fill="#000">4000</text>
<line x1="266.7" y1="266.3" x2="273.7" y2="266.3" stroke="#000" stroke-width="2.3" stroke-linecap="butt"/>
<text x="266.4" y="270.09" font-size="10.6" text-anchor="end" fill="#000">6000</text>
<text x="232" y="335" font-size="10.7" text-anchor="middle" transform="rotate(-90 232 335)" fill="#000">Relative expression</text>
<circle cx="280.1" cy="407.68" r="2.3" fill="#fff" stroke="#000" stroke-width="1.5"/>
<circle cx="288.3" cy="407.68" r="2.3" fill="#fff" stroke="#000" stroke-width="1.5"/>
<circle cx="296.5" cy="407.68" r="2.3" fill="#fff" stroke="#000" stroke-width="1.5"/>
<circle cx="302.1" cy="289.87" r="2.3" fill="#fff" stroke="#000" stroke-width="1.5"/>
<circle cx="310.3" cy="286.8" r="2.3" fill="#fff" stroke="#000" stroke-width="1.5"/>
<circle cx="318.5" cy="289.4" r="2.3" fill="#fff" stroke="#000" stroke-width="1.5"/>
<text x="288.8" y="402.18" font-size="10.6" text-anchor="middle" fill="#000">c</text>
<text x="309.4" y="279.9" font-size="10.6" text-anchor="middle" fill="#000">a</text>
<text x="300.3" y="423.2" font-size="10.7" text-anchor="end" transform="rotate(-30 300.3 423.2)" fill="#000">WT</text>
<circle cx="330.8" cy="407.68" r="2.3" fill="#fff" stroke="#000" stroke-width="1.5"/>
<circle cx="339" cy="407.68" r="2.3" fill="#fff" stroke="#000" stroke-width="1.5"/>
<circle cx="347.2" cy="407.68" r="2.3" fill="#fff" stroke="#000" stroke-width="1.5"/>
<circle cx="352.8" cy="372.82" r="2.3" fill="#fff" stroke="#000" stroke-width="1.5"/>
<circle cx="361" cy="370.23" r="2.3" fill="#fff" stroke="#000" stroke-width="1.5"/>
<circle cx="369.2" cy="372.11" r="2.3" fill="#fff" stroke="#000" stroke-width="1.5"/>
<text x="339.5" y="402.18" font-size="10.6" text-anchor="middle" fill="#000">c</text>
<text x="361.5" y="364.73" font-size="10.6" text-anchor="middle" fill="#000">b</text>
<text x="351" y="423.2" font-size="10.7" text-anchor="end" font-style="italic" transform="rotate(-30 351 423.2)" fill="#000">med16-2</text>
<circle cx="381" cy="407.68" r="2.3" fill="#fff" stroke="#000" stroke-width="1.5"/>
<circle cx="389.2" cy="407.68" r="2.3" fill="#fff" stroke="#000" stroke-width="1.5"/>
<circle cx="397.4" cy="407.68" r="2.3" fill="#fff" stroke="#000" stroke-width="1.5"/>
<circle cx="403" cy="370.94" r="2.3" fill="#fff" stroke="#000" stroke-width="1.5"/>
<circle cx="411.2" cy="369.99" r="2.3" fill="#fff" stroke="#000" stroke-width="1.5"/>
<circle cx="419.4" cy="370.46" r="2.3" fill="#fff" stroke="#000" stroke-width="1.5"/>
<text x="389.7" y="402.18" font-size="10.6" text-anchor="middle" fill="#000">c</text>
<text x="411.7" y="364.49" font-size="10.6" text-anchor="middle" fill="#000">b</text>
<text x="401.2" y="423.2" font-size="10.7" text-anchor="end" font-style="italic" transform="rotate(-30 401.2 423.2)" fill="#000">med16-3</text>
<rect x="358.3" y="265.7" width="13.5" height="8.4" fill="#fff" stroke="#000" stroke-width="1.6"/>
<text x="375.1" y="273.73" font-size="10.7" text-anchor="start" fill="#000">Control</text>
<rect x="358.3" y="281.1" width="13.5" height="8.4" fill="#000" stroke="#000" stroke-width="1.6"/>
<text x="375.1" y="289.13" font-size="10.7" text-anchor="start" fill="#000">MeJA</text>
<text x="439.5" y="242" font-size="18.5" text-anchor="start" font-weight="bold" fill="#000">f</text>
<g stroke="#1fc01f" stroke-width="1" fill="none">
<line x1="485.4" y1="297.78" x2="485.4" y2="315.49"/>
<line x1="485.4" y1="326.95" x2="485.4" y2="331.64"/>
<line x1="482.9" y1="297.78" x2="487.9" y2="297.78"/>
<line x1="482.9" y1="331.64" x2="487.9" y2="331.64"/>
<rect x="480" y="315.49" width="10.8" height="11.46"/>
<line x1="480" y1="321.39" x2="490.8" y2="321.39"/>
</g>
<g fill="none" stroke="#1fc01f" stroke-width="0.85">
<circle cx="485.4" cy="331.64" r="1.05"/>
<circle cx="485.4" cy="329.9" r="1.05"/>
<circle cx="483.9" cy="328.16" r="1.05"/>
<circle cx="486.9" cy="328.16" r="1.05"/>
<circle cx="480.9" cy="326.43" r="1.05"/>
<circle cx="483.9" cy="326.43" r="1.05"/>
<circle cx="486.9" cy="326.43" r="1.05"/>
<circle cx="489.9" cy="326.43" r="1.05"/>
<circle cx="482.4" cy="324.69" r="1.05"/>
<circle cx="485.4" cy="324.69" r="1.05"/>
<circle cx="488.4" cy="324.69" r="1.05"/>
<circle cx="480.9" cy="322.95" r="1.05"/>
<circle cx="483.9" cy="322.95" r="1.05"/>
<circle cx="486.9" cy="322.95" r="1.05"/>
<circle cx="489.9" cy="322.95" r="1.05"/>
<circle cx="482.4" cy="321.22" r="1.05"/>
<circle cx="485.4" cy="321.22" r="1.05"/>
<circle cx="488.4" cy="321.22" r="1.05"/>
<circle cx="480.9" cy="319.48" r="1.05"/>
<circle cx="483.9" cy="319.48" r="1.05"/>
<circle cx="486.9" cy="319.48" r="1.05"/>
<circle cx="489.9" cy="319.48" r="1.05"/>
<circle cx="480.9" cy="317.75" r="1.05"/>
<circle cx="483.9" cy="317.75" r="1.05"/>
<circle cx="486.9" cy="317.75" r="1.05"/>
<circle cx="489.9" cy="317.75" r="1.05"/>
<circle cx="480.9" cy="316.01" r="1.05"/>
<circle cx="483.9" cy="316.01" r="1.05"/>
<circle cx="486.9" cy="316.01" r="1.05"/>
<circle cx="489.9" cy="316.01" r="1.05"/>
<circle cx="485.4" cy="314.27" r="1.05"/>
<circle cx="485.4" cy="310.8" r="1.05"/>
<circle cx="485.4" cy="302.12" r="1.05"/>
<circle cx="485.4" cy="298.65" r="1.05"/>
<circle cx="485.4" cy="297.78" r="1.05"/>
</g>
<text x="485.4" y="292.4" font-size="10.6" text-anchor="middle" fill="#000">a</text>
<g stroke="#62aaf2" stroke-width="1" fill="none">
<line x1="499.1" y1="307.5" x2="499.1" y2="314.79"/>
<line x1="499.1" y1="322.78" x2="499.1" y2="333.02"/>
<line x1="496.6" y1="307.5" x2="501.6" y2="307.5"/>
<line x1="496.6" y1="333.02" x2="501.6" y2="333.02"/>
<rect x="493.7" y="314.79" width="10.8" height="7.99"/>
<line x1="493.7" y1="318.79" x2="504.5" y2="318.79"/>
</g>
<g fill="#62aaf2" stroke="#62aaf2" stroke-width="0.6">
<circle cx="499.1" cy="333.02" r="1.3"/>
<circle cx="499.1" cy="331.29" r="1.3"/>
<circle cx="499.1" cy="329.55" r="1.3"/>
<circle cx="497.88" cy="327.82" r="1.3"/>
<circle cx="500.33" cy="327.82" r="1.3"/>
<circle cx="497.88" cy="326.08" r="1.3"/>
<circle cx="500.33" cy="326.08" r="1.3"/>
<circle cx="497.88" cy="324.34" r="1.3"/>
<circle cx="500.33" cy="324.34" r="1.3"/>
<circle cx="494.2" cy="322.61" r="1.3"/>
<circle cx="496.65" cy="322.61" r="1.3"/>
<circle cx="499.1" cy="322.61" r="1.3"/>
<circle cx="501.55" cy="322.61" r="1.3"/>
<circle cx="504" cy="322.61" r="1.3"/>
<circle cx="494.2" cy="320.87" r="1.3"/>
<circle cx="496.65" cy="320.87" r="1.3"/>
<circle cx="499.1" cy="320.87" r="1.3"/>
<circle cx="501.55" cy="320.87" r="1.3"/>
<circle cx="504" cy="320.87" r="1.3"/>
<circle cx="494.2" cy="319.13" r="1.3"/>
<circle cx="496.65" cy="319.13" r="1.3"/>
<circle cx="499.1" cy="319.13" r="1.3"/>
<circle cx="501.55" cy="319.13" r="1.3"/>
<circle cx="504" cy="319.13" r="1.3"/>
<circle cx="495.43" cy="317.4" r="1.3"/>
<circle cx="497.88" cy="317.4" r="1.3"/>
<circle cx="500.33" cy="317.4" r="1.3"/>
<circle cx="502.78" cy="317.4" r="1.3"/>
<circle cx="494.2" cy="315.66" r="1.3"/>
<circle cx="496.65" cy="315.66" r="1.3"/>
<circle cx="499.1" cy="315.66" r="1.3"/>
<circle cx="501.55" cy="315.66" r="1.3"/>
<circle cx="504" cy="315.66" r="1.3"/>
<circle cx="497.88" cy="313.93" r="1.3"/>
<circle cx="500.33" cy="313.93" r="1.3"/>
<circle cx="497.88" cy="312.19" r="1.3"/>
<circle cx="500.33" cy="312.19" r="1.3"/>
<circle cx="499.1" cy="310.45" r="1.3"/>
<circle cx="499.1" cy="308.72" r="1.3"/>
<circle cx="499.1" cy="307.5" r="1.3"/>
</g>
<text x="499.1" y="302.9" font-size="10.6" text-anchor="middle" fill="#000">a</text>
<g stroke="#f7c28e" stroke-width="1" fill="none">
<line x1="512.7" y1="309.76" x2="512.7" y2="317.05"/>
<line x1="512.7" y1="329.38" x2="512.7" y2="336.67"/>
<line x1="510.2" y1="309.76" x2="515.2" y2="309.76"/>
<line x1="510.2" y1="336.67" x2="515.2" y2="336.67"/>
<rect x="507.3" y="317.05" width="10.8" height="12.33"/>
<line x1="507.3" y1="323.13" x2="518.1" y2="323.13"/>
</g>
<g fill="none" stroke="#f7c28e" stroke-width="0.85">
<circle cx="512.7" cy="336.67" r="1.05"/>
<circle cx="511.2" cy="334.93" r="1.05"/>
<circle cx="514.2" cy="334.93" r="1.05"/>
<circle cx="511.2" cy="333.2" r="1.05"/>
<circle cx="514.2" cy="333.2" r="1.05"/>
<circle cx="511.2" cy="331.46" r="1.05"/>
<circle cx="514.2" cy="331.46" r="1.05"/>
<circle cx="511.2" cy="329.73" r="1.05"/>
<circle cx="514.2" cy="329.73" r="1.05"/>
<circle cx="508.2" cy="327.99" r="1.05"/>
<circle cx="511.2" cy="327.99" r="1.05"/>
<circle cx="514.2" cy="327.99" r="1.05"/>
<circle cx="517.2" cy="327.99" r="1.05"/>
<circle cx="509.7" cy="326.25" r="1.05"/>
<circle cx="512.7" cy="326.25" r="1.05"/>
<circle cx="515.7" cy="326.25" r="1.05"/>
<circle cx="508.2" cy="324.52" r="1.05"/>
<circle cx="511.2" cy="324.52" r="1.05"/>
<circle cx="514.2" cy="324.52" r="1.05"/>
<circle cx="517.2" cy="324.52" r="1.05"/>
<circle cx="509.7" cy="322.78" r="1.05"/>
<circle cx="512.7" cy="322.78" r="1.05"/>
<circle cx="515.7" cy="322.78" r="1.05"/>
<circle cx="508.2" cy="321.04" r="1.05"/>
<circle cx="511.2" cy="321.04" r="1.05"/>
<circle cx="514.2" cy="321.04" r="1.05"/>
<circle cx="517.2" cy="321.04" r="1.05"/>
<circle cx="508.2" cy="319.31" r="1.05"/>
<circle cx="511.2" cy="319.31" r="1.05"/>
<circle cx="514.2" cy="319.31" r="1.05"/>
<circle cx="517.2" cy="319.31" r="1.05"/>
<circle cx="508.2" cy="317.57" r="1.05"/>
<circle cx="511.2" cy="317.57" r="1.05"/>
<circle cx="514.2" cy="317.57" r="1.05"/>
<circle cx="517.2" cy="317.57" r="1.05"/>
<circle cx="512.7" cy="315.84" r="1.05"/>
<circle cx="512.7" cy="314.1" r="1.05"/>
<circle cx="512.7" cy="309.76" r="1.05"/>
</g>
<text x="512.7" y="303.4" font-size="10.6" text-anchor="middle" fill="#000">a</text>
<g stroke="#d98af0" stroke-width="1" fill="none">
<line x1="526.1" y1="302.64" x2="526.1" y2="311.84"/>
<line x1="526.1" y1="326.95" x2="526.1" y2="335.28"/>
<line x1="523.6" y1="302.64" x2="528.6" y2="302.64"/>
<line x1="523.6" y1="335.28" x2="528.6" y2="335.28"/>
<rect x="520.7" y="311.84" width="10.8" height="15.11"/>
<line x1="520.7" y1="317.05" x2="531.5" y2="317.05"/>
</g>
<g fill="none" stroke="#d98af0" stroke-width="0.85">
<circle cx="526.1" cy="335.28" r="1.05"/>
<circle cx="526.1" cy="333.55" r="1.05"/>
<circle cx="524.6" cy="331.81" r="1.05"/>
<circle cx="527.6" cy="331.81" r="1.05"/>
<circle cx="524.6" cy="330.07" r="1.05"/>
<circle cx="527.6" cy="330.07" r="1.05"/>
<circle cx="524.6" cy="328.34" r="1.05"/>
<circle cx="527.6" cy="328.34" r="1.05"/>
<circle cx="521.6" cy="326.6" r="1.05"/>
<circle cx="524.6" cy="326.6" r="1.05"/>
<circle cx="527.6" cy="326.6" r="1.05"/>
<circle cx="530.6" cy="326.6" r="1.05"/>
<circle cx="521.6" cy="324.86" r="1.05"/>
<circle cx="524.6" cy="324.86" r="1.05"/>
<circle cx="527.6" cy="324.86" r="1.05"/>
<circle cx="530.6" cy="324.86" r="1.05"/>
<circle cx="523.1" cy="323.13" r="1.05"/>
<circle cx="526.1" cy="323.13" r="1.05"/>
<circle cx="529.1" cy="323.13" r="1.05"/>
<circle cx="521.6" cy="321.39" r="1.05"/>
<circle cx="524.6" cy="321.39" r="1.05"/>
<circle cx="527.6" cy="321.39" r="1.05"/>
<circle cx="530.6" cy="321.39" r="1.05"/>
<circle cx="521.6" cy="319.66" r="1.05"/>
<circle cx="524.6" cy="319.66" r="1.05"/>
<circle cx="527.6" cy="319.66" r="1.05"/>
<circle cx="530.6" cy="319.66" r="1.05"/>
<circle cx="521.6" cy="317.92" r="1.05"/>
<circle cx="524.6" cy="317.92" r="1.05"/>
<circle cx="527.6" cy="317.92" r="1.05"/>
<circle cx="530.6" cy="317.92" r="1.05"/>
<circle cx="521.6" cy="316.18" r="1.05"/>
<circle cx="524.6" cy="316.18" r="1.05"/>
<circle cx="527.6" cy="316.18" r="1.05"/>
<circle cx="530.6" cy="316.18" r="1.05"/>
<circle cx="521.6" cy="314.45" r="1.05"/>
<circle cx="524.6" cy="314.45" r="1.05"/>
<circle cx="527.6" cy="314.45" r="1.05"/>
<circle cx="530.6" cy="314.45" r="1.05"/>
<circle cx="521.6" cy="312.71" r="1.05"/>
<circle cx="524.6" cy="312.71" r="1.05"/>
<circle cx="527.6" cy="312.71" r="1.05"/>
<circle cx="530.6" cy="312.71" r="1.05"/>
<circle cx="524.6" cy="310.97" r="1.05"/>
<circle cx="527.6" cy="310.97" r="1.05"/>
<circle cx="524.6" cy="309.24" r="1.05"/>
<circle cx="527.6" cy="309.24" r="1.05"/>
<circle cx="524.6" cy="307.5" r="1.05"/>
<circle cx="527.6" cy="307.5" r="1.05"/>
<circle cx="526.1" cy="305.77" r="1.05"/>
<circle cx="526.1" cy="302.64" r="1.05"/>
</g>
<text x="526.1" y="294.6" font-size="10.6" text-anchor="middle" fill="#000">a</text>
<g stroke="#156b3c" stroke-width="1" fill="none">
<line x1="540" y1="302.64" x2="540" y2="321.39"/>
<line x1="540" y1="330.94" x2="540" y2="336.67"/>
<line x1="537.5" y1="302.64" x2="542.5" y2="302.64"/>
<line x1="537.5" y1="336.67" x2="542.5" y2="336.67"/>
<rect x="534.6" y="321.39" width="10.8" height="9.55"/>
<line x1="534.6" y1="325.73" x2="545.4" y2="325.73"/>
</g>
<g fill="#156b3c" stroke="#156b3c" stroke-width="0.6">
<circle cx="540" cy="336.67" r="1.3"/>
<circle cx="540" cy="334.93" r="1.3"/>
<circle cx="538.77" cy="333.2" r="1.3"/>
<circle cx="541.23" cy="333.2" r="1.3"/>
<circle cx="538.77" cy="331.46" r="1.3"/>
<circle cx="541.23" cy="331.46" r="1.3"/>
<circle cx="535.1" cy="329.73" r="1.3"/>
<circle cx="537.55" cy="329.73" r="1.3"/>
<circle cx="540" cy="329.73" r="1.3"/>
<circle cx="542.45" cy="329.73" r="1.3"/>
<circle cx="544.9" cy="329.73" r="1.3"/>
<circle cx="536.33" cy="327.99" r="1.3"/>
<circle cx="538.77" cy="327.99" r="1.3"/>
<circle cx="541.23" cy="327.99" r="1.3"/>
<circle cx="543.67" cy="327.99" r="1.3"/>
<circle cx="535.1" cy="326.25" r="1.3"/>
<circle cx="537.55" cy="326.25" r="1.3"/>
<circle cx="540" cy="326.25" r="1.3"/>
<circle cx="542.45" cy="326.25" r="1.3"/>
<circle cx="544.9" cy="326.25" r="1.3"/>
<circle cx="536.33" cy="324.52" r="1.3"/>
<circle cx="538.77" cy="324.52" r="1.3"/>
<circle cx="541.23" cy="324.52" r="1.3"/>
<circle cx="543.67" cy="324.52" r="1.3"/>
<circle cx="536.33" cy="322.78" r="1.3"/>
<circle cx="538.77" cy="322.78" r="1.3"/>
<circle cx="541.23" cy="322.78" r="1.3"/>
<circle cx="543.67" cy="322.78" r="1.3"/>
<circle cx="540" cy="321.04" r="1.3"/>
<circle cx="540" cy="302.64" r="1.3"/>
</g>
<text x="540" y="297.1" font-size="10.6" text-anchor="middle" fill="#000">a</text>
<g stroke="#1414ee" stroke-width="1" fill="none">
<line x1="553.8" y1="307.5" x2="553.8" y2="312.88"/>
<line x1="553.8" y1="324.34" x2="553.8" y2="336.67"/>
<line x1="551.3" y1="307.5" x2="556.3" y2="307.5"/>
<line x1="551.3" y1="336.67" x2="556.3" y2="336.67"/>
<rect x="548.4" y="312.88" width="10.8" height="11.46"/>
<line x1="548.4" y1="318.79" x2="559.2" y2="318.79"/>
</g>
<g fill="none" stroke="#1414ee" stroke-width="0.85">
<circle cx="553.8" cy="336.67" r="1.05"/>
<circle cx="553.8" cy="334.93" r="1.05"/>
<circle cx="553.8" cy="333.2" r="1.05"/>
<circle cx="552.3" cy="329.73" r="1.05"/>
<circle cx="555.3" cy="329.73" r="1.05"/>
<circle cx="552.3" cy="327.99" r="1.05"/>
<circle cx="555.3" cy="327.99" r="1.05"/>
<circle cx="552.3" cy="326.25" r="1.05"/>
<circle cx="555.3" cy="326.25" r="1.05"/>
<circle cx="552.3" cy="324.52" r="1.05"/>
<circle cx="555.3" cy="324.52" r="1.05"/>
<circle cx="550.8" cy="322.78" r="1.05"/>
<circle cx="553.8" cy="322.78" r="1.05"/>
<circle cx="556.8" cy="322.78" r="1.05"/>
<circle cx="549.3" cy="321.04" r="1.05"/>
<circle cx="552.3" cy="321.04" r="1.05"/>
<circle cx="555.3" cy="321.04" r="1.05"/>
<circle cx="558.3" cy="321.04" r="1.05"/>
<circle cx="550.8" cy="319.31" r="1.05"/>
<circle cx="553.8" cy="319.31" r="1.05"/>
<circle cx="556.8" cy="319.31" r="1.05"/>
<circle cx="549.3" cy="317.57" r="1.05"/>
<circle cx="552.3" cy="317.57" r="1.05"/>
<circle cx="555.3" cy="317.57" r="1.05"/>
<circle cx="558.3" cy="317.57" r="1.05"/>
<circle cx="549.3" cy="315.84" r="1.05"/>
<circle cx="552.3" cy="315.84" r="1.05"/>
<circle cx="555.3" cy="315.84" r="1.05"/>
<circle cx="558.3" cy="315.84" r="1.05"/>
<circle cx="550.8" cy="314.1" r="1.05"/>
<circle cx="553.8" cy="314.1" r="1.05"/>
<circle cx="556.8" cy="314.1" r="1.05"/>
<circle cx="553.8" cy="312.36" r="1.05"/>
<circle cx="553.8" cy="310.63" r="1.05"/>
<circle cx="553.8" cy="308.89" r="1.05"/>
<circle cx="553.8" cy="307.5" r="1.05"/>
</g>
<text x="553.8" y="301.6" font-size="10.6" text-anchor="middle" fill="#000">a</text>
<g stroke="#f03a3a" stroke-width="1" fill="none">
<line x1="567" y1="311.15" x2="567" y2="314.79"/>
<line x1="567" y1="326.08" x2="567" y2="333.02"/>
<line x1="564.5" y1="311.15" x2="569.5" y2="311.15"/>
<line x1="564.5" y1="333.02" x2="569.5" y2="333.02"/>
<rect x="561.6" y="314.79" width="10.8" height="11.29"/>
<line x1="561.6" y1="320.52" x2="572.4" y2="320.52"/>
</g>
<g fill="none" stroke="#f03a3a" stroke-width="0.85">
<circle cx="567" cy="333.02" r="1.05"/>
<circle cx="565.5" cy="329.55" r="1.05"/>
<circle cx="568.5" cy="329.55" r="1.05"/>
<circle cx="565.5" cy="327.82" r="1.05"/>
<circle cx="568.5" cy="327.82" r="1.05"/>
<circle cx="562.5" cy="326.08" r="1.05"/>
<circle cx="565.5" cy="326.08" r="1.05"/>
<circle cx="568.5" cy="326.08" r="1.05"/>
<circle cx="571.5" cy="326.08" r="1.05"/>
<circle cx="564" cy="324.34" r="1.05"/>
<circle cx="567" cy="324.34" r="1.05"/>
<circle cx="570" cy="324.34" r="1.05"/>
<circle cx="564" cy="322.61" r="1.05"/>
<circle cx="567" cy="322.61" r="1.05"/>
<circle cx="570" cy="322.61" r="1.05"/>
<circle cx="564" cy="320.87" r="1.05"/>
<circle cx="567" cy="320.87" r="1.05"/>
<circle cx="570" cy="320.87" r="1.05"/>
<circle cx="562.5" cy="319.13" r="1.05"/>
<circle cx="565.5" cy="319.13" r="1.05"/>
<circle cx="568.5" cy="319.13" r="1.05"/>
<circle cx="571.5" cy="319.13" r="1.05"/>
<circle cx="564" cy="317.4" r="1.05"/>
<circle cx="567" cy="317.4" r="1.05"/>
<circle cx="570" cy="317.4" r="1.05"/>
<circle cx="562.5" cy="315.66" r="1.05"/>
<circle cx="565.5" cy="315.66" r="1.05"/>
<circle cx="568.5" cy="315.66" r="1.05"/>
<circle cx="571.5" cy="315.66" r="1.05"/>
<circle cx="565.5" cy="312.19" r="1.05"/>
<circle cx="568.5" cy="312.19" r="1.05"/>
<circle cx="567" cy="311.15" r="1.05"/>
</g>
<text x="567" y="306.3" font-size="10.6" text-anchor="middle" fill="#000">a</text>
<g stroke="#1fc01f" stroke-width="1" fill="none">
<line x1="585.8" y1="371.57" x2="585.8" y2="371.92"/>
<line x1="585.8" y1="377.47" x2="585.8" y2="386.33"/>
<line x1="583.3" y1="371.57" x2="588.3" y2="371.57"/>
<line x1="583.3" y1="386.33" x2="588.3" y2="386.33"/>
<rect x="580.4" y="371.92" width="10.8" height="5.56"/>
<line x1="580.4" y1="375.22" x2="591.2" y2="375.22"/>
</g>
<g fill="#1fc01f" stroke="#1fc01f" stroke-width="0.6">
<circle cx="584.42" cy="386.33" r="1.3"/>
<circle cx="587.17" cy="386.33" r="1.3"/>
<circle cx="585.8" cy="384.59" r="1.3"/>
<circle cx="585.8" cy="382.86" r="1.3"/>
<circle cx="584.42" cy="381.12" r="1.3"/>
<circle cx="587.17" cy="381.12" r="1.3"/>
<circle cx="584.42" cy="379.38" r="1.3"/>
<circle cx="587.17" cy="379.38" r="1.3"/>
<circle cx="584.42" cy="377.65" r="1.3"/>
<circle cx="587.17" cy="377.65" r="1.3"/>
<circle cx="581.67" cy="375.91" r="1.3"/>
<circle cx="584.42" cy="375.91" r="1.3"/>
<circle cx="587.17" cy="375.91" r="1.3"/>
<circle cx="589.92" cy="375.91" r="1.3"/>
<circle cx="581.67" cy="374.17" r="1.3"/>
<circle cx="584.42" cy="374.17" r="1.3"/>
<circle cx="587.17" cy="374.17" r="1.3"/>
<circle cx="589.92" cy="374.17" r="1.3"/>
<circle cx="583.05" cy="371.57" r="1.3"/>
<circle cx="585.8" cy="371.57" r="1.3"/>
<circle cx="588.55" cy="371.57" r="1.3"/>
</g>
<text x="586.2" y="367" font-size="10.6" text-anchor="middle" fill="#000">d</text>
<g stroke="#62aaf2" stroke-width="1" fill="none">
<line x1="599.4" y1="354.21" x2="599.4" y2="358.2"/>
<line x1="599.4" y1="366.36" x2="599.4" y2="370.53"/>
<line x1="596.9" y1="354.21" x2="601.9" y2="354.21"/>
<line x1="596.9" y1="370.53" x2="601.9" y2="370.53"/>
<rect x="594" y="358.2" width="10.8" height="8.16"/>
<line x1="594" y1="362.19" x2="604.8" y2="362.19"/>
</g>
<g fill="none" stroke="#62aaf2" stroke-width="0.85">
<circle cx="598.02" cy="370.53" r="1.05"/>
<circle cx="600.77" cy="370.53" r="1.05"/>
<circle cx="599.4" cy="368.79" r="1.05"/>
<circle cx="598.02" cy="367.06" r="1.05"/>
<circle cx="600.77" cy="367.06" r="1.05"/>
<circle cx="596.65" cy="365.32" r="1.05"/>
<circle cx="599.4" cy="365.32" r="1.05"/>
<circle cx="602.15" cy="365.32" r="1.05"/>
<circle cx="595.27" cy="363.58" r="1.05"/>
<circle cx="598.02" cy="363.58" r="1.05"/>
<circle cx="600.77" cy="363.58" r="1.05"/>
<circle cx="603.52" cy="363.58" r="1.05"/>
<circle cx="595.27" cy="361.85" r="1.05"/>
<circle cx="598.02" cy="361.85" r="1.05"/>
<circle cx="600.77" cy="361.85" r="1.05"/>
<circle cx="603.52" cy="361.85" r="1.05"/>
<circle cx="595.27" cy="360.11" r="1.05"/>
<circle cx="598.02" cy="360.11" r="1.05"/>
<circle cx="600.77" cy="360.11" r="1.05"/>
<circle cx="603.52" cy="360.11" r="1.05"/>
<circle cx="595.27" cy="358.37" r="1.05"/>
<circle cx="598.02" cy="358.37" r="1.05"/>
<circle cx="600.77" cy="358.37" r="1.05"/>
<circle cx="603.52" cy="358.37" r="1.05"/>
<circle cx="599.4" cy="356.64" r="1.05"/>
<circle cx="598.02" cy="354.21" r="1.05"/>
<circle cx="600.77" cy="354.21" r="1.05"/>
</g>
<text x="599.6" y="349.7" font-size="10.6" text-anchor="middle" fill="#000">c</text>
<g stroke="#f7c28e" stroke-width="1" fill="none">
<line x1="613" y1="347.44" x2="613" y2="349.35"/>
<line x1="613" y1="359.07" x2="613" y2="363.58"/>
<line x1="610.5" y1="347.44" x2="615.5" y2="347.44"/>
<line x1="610.5" y1="363.58" x2="615.5" y2="363.58"/>
<rect x="607.6" y="349.35" width="10.8" height="9.72"/>
<line x1="607.6" y1="353.51" x2="618.4" y2="353.51"/>
</g>
<g fill="none" stroke="#f7c28e" stroke-width="0.85">
<circle cx="611.62" cy="363.58" r="1.05"/>
<circle cx="614.38" cy="363.58" r="1.05"/>
<circle cx="613" cy="361.85" r="1.05"/>
<circle cx="611.62" cy="360.11" r="1.05"/>
<circle cx="614.38" cy="360.11" r="1.05"/>
<circle cx="610.25" cy="358.37" r="1.05"/>
<circle cx="613" cy="358.37" r="1.05"/>
<circle cx="615.75" cy="358.37" r="1.05"/>
<circle cx="608.88" cy="356.64" r="1.05"/>
<circle cx="611.62" cy="356.64" r="1.05"/>
<circle cx="614.38" cy="356.64" r="1.05"/>
<circle cx="617.12" cy="356.64" r="1.05"/>
<circle cx="608.88" cy="354.9" r="1.05"/>
<circle cx="611.62" cy="354.9" r="1.05"/>
<circle cx="614.38" cy="354.9" r="1.05"/>
<circle cx="617.12" cy="354.9" r="1.05"/>
<circle cx="610.25" cy="353.17" r="1.05"/>
<circle cx="613" cy="353.17" r="1.05"/>
<circle cx="615.75" cy="353.17" r="1.05"/>
<circle cx="608.88" cy="351.43" r="1.05"/>
<circle cx="611.62" cy="351.43" r="1.05"/>
<circle cx="614.38" cy="351.43" r="1.05"/>
<circle cx="617.12" cy="351.43" r="1.05"/>
<circle cx="610.25" cy="349.69" r="1.05"/>
<circle cx="613" cy="349.69" r="1.05"/>
<circle cx="615.75" cy="349.69" r="1.05"/>
<circle cx="611.62" cy="347.44" r="1.05"/>
<circle cx="614.38" cy="347.44" r="1.05"/>
</g>
<text x="614" y="343.6" font-size="10.6" text-anchor="middle" fill="#000">b</text>
<g stroke="#d98af0" stroke-width="1" fill="none">
<line x1="626.7" y1="354.55" x2="626.7" y2="358.72"/>
<line x1="626.7" y1="367.4" x2="626.7" y2="373.83"/>
<line x1="624.2" y1="354.55" x2="629.2" y2="354.55"/>
<line x1="624.2" y1="373.83" x2="629.2" y2="373.83"/>
<rect x="621.3" y="358.72" width="10.8" height="8.68"/>
<line x1="621.3" y1="363.06" x2="632.1" y2="363.06"/>
</g>
<g fill="none" stroke="#d98af0" stroke-width="0.85">
<circle cx="625.33" cy="373.83" r="1.05"/>
<circle cx="628.08" cy="373.83" r="1.05"/>
<circle cx="626.7" cy="372.09" r="1.05"/>
<circle cx="625.33" cy="370.35" r="1.05"/>
<circle cx="628.08" cy="370.35" r="1.05"/>
<circle cx="625.33" cy="368.62" r="1.05"/>
<circle cx="628.08" cy="368.62" r="1.05"/>
<circle cx="622.58" cy="366.88" r="1.05"/>
<circle cx="625.33" cy="366.88" r="1.05"/>
<circle cx="628.08" cy="366.88" r="1.05"/>
<circle cx="630.83" cy="366.88" r="1.05"/>
<circle cx="622.58" cy="365.15" r="1.05"/>
<circle cx="625.33" cy="365.15" r="1.05"/>
<circle cx="628.08" cy="365.15" r="1.05"/>
<circle cx="630.83" cy="365.15" r="1.05"/>
<circle cx="622.58" cy="363.41" r="1.05"/>
<circle cx="625.33" cy="363.41" r="1.05"/>
<circle cx="628.08" cy="363.41" r="1.05"/>
<circle cx="630.83" cy="363.41" r="1.05"/>
<circle cx="623.95" cy="361.67" r="1.05"/>
<circle cx="626.7" cy="361.67" r="1.05"/>
<circle cx="629.45" cy="361.67" r="1.05"/>
<circle cx="622.58" cy="359.94" r="1.05"/>
<circle cx="625.33" cy="359.94" r="1.05"/>
<circle cx="628.08" cy="359.94" r="1.05"/>
<circle cx="630.83" cy="359.94" r="1.05"/>
<circle cx="625.33" cy="358.2" r="1.05"/>
<circle cx="628.08" cy="358.2" r="1.05"/>
<circle cx="626.7" cy="356.46" r="1.05"/>
<circle cx="625.33" cy="354.55" r="1.05"/>
<circle cx="628.08" cy="354.55" r="1.05"/>
</g>
<text x="627.2" y="350.5" font-size="10.6" text-anchor="middle" fill="#000">c</text>
<g stroke="#156b3c" stroke-width="1" fill="none">
<line x1="640.4" y1="354.21" x2="640.4" y2="359.59"/>
<line x1="640.4" y1="366.53" x2="640.4" y2="374.35"/>
<line x1="637.9" y1="354.21" x2="642.9" y2="354.21"/>
<line x1="637.9" y1="374.35" x2="642.9" y2="374.35"/>
<rect x="635" y="359.59" width="10.8" height="6.94"/>
<line x1="635" y1="363.06" x2="645.8" y2="363.06"/>
</g>
<g fill="#156b3c" stroke="#156b3c" stroke-width="0.6">
<circle cx="639.02" cy="374.35" r="1.3"/>
<circle cx="641.77" cy="374.35" r="1.3"/>
<circle cx="640.4" cy="372.61" r="1.3"/>
<circle cx="640.4" cy="370.88" r="1.3"/>
<circle cx="639.02" cy="369.14" r="1.3"/>
<circle cx="641.77" cy="369.14" r="1.3"/>
<circle cx="639.02" cy="367.4" r="1.3"/>
<circle cx="641.77" cy="367.4" r="1.3"/>
<circle cx="636.27" cy="365.67" r="1.3"/>
<circle cx="639.02" cy="365.67" r="1.3"/>
<circle cx="641.77" cy="365.67" r="1.3"/>
<circle cx="644.52" cy="365.67" r="1.3"/>
<circle cx="636.27" cy="363.93" r="1.3"/>
<circle cx="639.02" cy="363.93" r="1.3"/>
<circle cx="641.77" cy="363.93" r="1.3"/>
<circle cx="644.52" cy="363.93" r="1.3"/>
<circle cx="637.65" cy="362.19" r="1.3"/>
<circle cx="640.4" cy="362.19" r="1.3"/>
<circle cx="643.15" cy="362.19" r="1.3"/>
<circle cx="636.27" cy="360.46" r="1.3"/>
<circle cx="639.02" cy="360.46" r="1.3"/>
<circle cx="641.77" cy="360.46" r="1.3"/>
<circle cx="644.52" cy="360.46" r="1.3"/>
<circle cx="639.02" cy="358.72" r="1.3"/>
<circle cx="641.77" cy="358.72" r="1.3"/>
<circle cx="640.4" cy="356.99" r="1.3"/>
<circle cx="640.4" cy="355.25" r="1.3"/>
<circle cx="639.02" cy="354.21" r="1.3"/>
<circle cx="641.77" cy="354.21" r="1.3"/>
</g>
<text x="640.4" y="350.5" font-size="10.6" text-anchor="middle" fill="#000">c</text>
<g stroke="#1414ee" stroke-width="1" fill="none">
<line x1="653.7" y1="345.35" x2="653.7" y2="348.3"/>
<line x1="653.7" y1="359.07" x2="653.7" y2="360.46"/>
<line x1="651.2" y1="345.35" x2="656.2" y2="345.35"/>
<line x1="651.2" y1="360.46" x2="656.2" y2="360.46"/>
<rect x="648.3" y="348.3" width="10.8" height="10.76"/>
<line x1="648.3" y1="354.38" x2="659.1" y2="354.38"/>
</g>
<g fill="#1414ee" stroke="#1414ee" stroke-width="0.6">
<circle cx="652.33" cy="360.46" r="1.3"/>
<circle cx="655.08" cy="360.46" r="1.3"/>
<circle cx="649.58" cy="358.72" r="1.3"/>
<circle cx="652.33" cy="358.72" r="1.3"/>
<circle cx="655.08" cy="358.72" r="1.3"/>
<circle cx="657.83" cy="358.72" r="1.3"/>
<circle cx="649.58" cy="356.99" r="1.3"/>
<circle cx="652.33" cy="356.99" r="1.3"/>
<circle cx="655.08" cy="356.99" r="1.3"/>
<circle cx="657.83" cy="356.99" r="1.3"/>
<circle cx="650.95" cy="355.25" r="1.3"/>
<circle cx="653.7" cy="355.25" r="1.3"/>
<circle cx="656.45" cy="355.25" r="1.3"/>
<circle cx="650.95" cy="353.51" r="1.3"/>
<circle cx="653.7" cy="353.51" r="1.3"/>
<circle cx="656.45" cy="353.51" r="1.3"/>
<circle cx="649.58" cy="351.78" r="1.3"/>
<circle cx="652.33" cy="351.78" r="1.3"/>
<circle cx="655.08" cy="351.78" r="1.3"/>
<circle cx="657.83" cy="351.78" r="1.3"/>
<circle cx="649.58" cy="350.04" r="1.3"/>
<circle cx="652.33" cy="350.04" r="1.3"/>
<circle cx="655.08" cy="350.04" r="1.3"/>
<circle cx="657.83" cy="350.04" r="1.3"/>
<circle cx="649.58" cy="348.3" r="1.3"/>
<circle cx="652.33" cy="348.3" r="1.3"/>
<circle cx="655.08" cy="348.3" r="1.3"/>
<circle cx="657.83" cy="348.3" r="1.3"/>
<circle cx="653.7" cy="346.57" r="1.3"/>
<circle cx="650.95" cy="345.35" r="1.3"/>
<circle cx="653.7" cy="345.35" r="1.3"/>
<circle cx="656.45" cy="345.35" r="1.3"/>
</g>
<text x="654.8" y="341.7" font-size="10.6" text-anchor="middle" fill="#000">b</text>
<g stroke="#f03a3a" stroke-width="1" fill="none">
<line x1="667.3" y1="345.87" x2="667.3" y2="349.17"/>
<line x1="667.3" y1="356.99" x2="667.3" y2="363.93"/>
<line x1="664.8" y1="345.87" x2="669.8" y2="345.87"/>
<line x1="664.8" y1="363.93" x2="669.8" y2="363.93"/>
<rect x="661.9" y="349.17" width="10.8" height="7.81"/>
<line x1="661.9" y1="353.51" x2="672.7" y2="353.51"/>
</g>
<g fill="#f03a3a" stroke="#f03a3a" stroke-width="0.6">
<circle cx="665.92" cy="363.93" r="1.3"/>
<circle cx="668.67" cy="363.93" r="1.3"/>
<circle cx="667.3" cy="362.19" r="1.3"/>
<circle cx="665.92" cy="360.46" r="1.3"/>
<circle cx="668.67" cy="360.46" r="1.3"/>
<circle cx="665.92" cy="358.72" r="1.3"/>
<circle cx="668.67" cy="358.72" r="1.3"/>
<circle cx="663.17" cy="356.99" r="1.3"/>
<circle cx="665.92" cy="356.99" r="1.3"/>
<circle cx="668.67" cy="356.99" r="1.3"/>
<circle cx="671.42" cy="356.99" r="1.3"/>
<circle cx="663.17" cy="355.25" r="1.3"/>
<circle cx="665.92" cy="355.25" r="1.3"/>
<circle cx="668.67" cy="355.25" r="1.3"/>
<circle cx="671.42" cy="355.25" r="1.3"/>
<circle cx="663.17" cy="353.51" r="1.3"/>
<circle cx="665.92" cy="353.51" r="1.3"/>
<circle cx="668.67" cy="353.51" r="1.3"/>
<circle cx="671.42" cy="353.51" r="1.3"/>
<circle cx="663.17" cy="351.78" r="1.3"/>
<circle cx="665.92" cy="351.78" r="1.3"/>
<circle cx="668.67" cy="351.78" r="1.3"/>
<circle cx="671.42" cy="351.78" r="1.3"/>
<circle cx="663.17" cy="350.04" r="1.3"/>
<circle cx="665.92" cy="350.04" r="1.3"/>
<circle cx="668.67" cy="350.04" r="1.3"/>
<circle cx="671.42" cy="350.04" r="1.3"/>
<circle cx="665.92" cy="348.3" r="1.3"/>
<circle cx="668.67" cy="348.3" r="1.3"/>
<circle cx="665.92" cy="345.87" r="1.3"/>
<circle cx="668.67" cy="345.87" r="1.3"/>
</g>
<text x="667.7" y="341.7" font-size="10.6" text-anchor="middle" fill="#000">b</text>
<line x1="471.4" y1="405.6" x2="677" y2="405.6" stroke="#000" stroke-width="2.3" stroke-linecap="butt"/>
<line x1="526.3" y1="405.6" x2="526.3" y2="410.9" stroke="#000" stroke-width="2.3" stroke-linecap="butt"/>
<text x="524.8" y="421.6" font-size="10.7" text-anchor="middle" fill="#000">Control</text>
<line x1="627.4" y1="405.6" x2="627.4" y2="410.9" stroke="#000" stroke-width="2.3" stroke-linecap="butt"/>
<text x="627.4" y="421.6" font-size="10.7" text-anchor="middle" fill="#000">JA</text>
<line x1="477" y1="265.55" x2="477" y2="406.75" stroke="#000" stroke-width="2.3" stroke-linecap="butt"/>
<line x1="471.4" y1="405.6" x2="477" y2="405.6" stroke="#000" stroke-width="2.3" stroke-linecap="butt"/>
<text x="470.5" y="409.39" font-size="10.6" text-anchor="end" fill="#000">0</text>
<line x1="471.4" y1="370.88" x2="477" y2="370.88" stroke="#000" stroke-width="2.3" stroke-linecap="butt"/>
<text x="470.5" y="374.67" font-size="10.6" text-anchor="end" fill="#000">2</text>
<line x1="471.4" y1="336.15" x2="477" y2="336.15" stroke="#000" stroke-width="2.3" stroke-linecap="butt"/>
<text x="470.5" y="339.94" font-size="10.6" text-anchor="end" fill="#000">4</text>
<line x1="471.4" y1="301.43" x2="477" y2="301.43" stroke="#000" stroke-width="2.3" stroke-linecap="butt"/>
<text x="470.5" y="305.22" font-size="10.6" text-anchor="end" fill="#000">6</text>
<line x1="471.4" y1="266.7" x2="477" y2="266.7" stroke="#000" stroke-width="2.3" stroke-linecap="butt"/>
<text x="470.5" y="270.49" font-size="10.6" text-anchor="end" fill="#000">8</text>
<text x="457" y="338" font-size="10.7" text-anchor="middle" transform="rotate(-90 457 338)" fill="#000">Root length (cm)</text>
<rect x="576.3" y="241.9" width="7.6" height="5.4" fill="none" stroke="#1fc01f" stroke-width="1.6"/>
<text x="588.3" y="247.5" font-size="10.7" text-anchor="start" fill="#000">WT</text>
<rect x="576.3" y="253.6" width="7.6" height="5.4" fill="none" stroke="#62aaf2" stroke-width="1.6"/>
<text x="588.3" y="259.2" font-size="10.7" text-anchor="start" font-style="italic" fill="#000">med25-4</text>
<rect x="576.3" y="265.3" width="7.6" height="5.4" fill="none" stroke="#f7c28e" stroke-width="1.6"/>
<text x="588.3" y="270.9" font-size="10.7" text-anchor="start" font-style="italic" fill="#000">myc2-2</text>
<rect x="576.3" y="277" width="7.6" height="5.4" fill="none" stroke="#d98af0" stroke-width="1.6"/>
<text x="588.3" y="282.6" font-size="10.7" text-anchor="start" font-style="italic" fill="#000">med16-3</text>
<rect x="576.3" y="288.7" width="7.6" height="5.4" fill="none" stroke="#156b3c" stroke-width="1.6"/>
<text x="588.3" y="294.3" font-size="10.7" text-anchor="start" font-style="italic" fill="#000">med16-3 med25-4</text>
<rect x="576.3" y="300.4" width="7.6" height="5.4" fill="none" stroke="#1414ee" stroke-width="1.6"/>
<text x="588.3" y="306" font-size="10.7" text-anchor="start" font-style="italic" fill="#000">med16-3 myc2-2</text>
<rect x="576.3" y="312.1" width="7.6" height="5.4" fill="none" stroke="#f03a3a" stroke-width="1.6"/>
<text x="588.3" y="317.7" font-size="10.7" text-anchor="start" font-style="italic" fill="#000">med25-4 myc2-2</text>
<text x="-0.5" y="478.3" font-size="18.5" text-anchor="start" font-weight="bold" fill="#000">g</text>
<text x="201.5" y="480.2" font-size="10.7" text-anchor="middle" font-style="italic" fill="#000">VSP1</text>
<rect x="74" y="540.32" width="17" height="124.18" fill="#000" stroke="none" stroke-width="1"/>
<line x1="82.5" y1="536.05" x2="82.5" y2="540.32" stroke="#000" stroke-width="1" stroke-linecap="butt"/>
<line x1="77.5" y1="536.05" x2="87.5" y2="536.05" stroke="#000" stroke-width="1" stroke-linecap="butt"/>
<rect x="113.4" y="596.65" width="17" height="67.85" fill="#000" stroke="none" stroke-width="1"/>
<line x1="121.9" y1="593.23" x2="121.9" y2="596.65" stroke="#000" stroke-width="1" stroke-linecap="butt"/>
<line x1="116.9" y1="593.23" x2="126.9" y2="593.23" stroke="#000" stroke-width="1" stroke-linecap="butt"/>
<rect x="152.8" y="599.21" width="17" height="65.29" fill="#000" stroke="none" stroke-width="1"/>
<line x1="161.3" y1="595.79" x2="161.3" y2="599.21" stroke="#000" stroke-width="1" stroke-linecap="butt"/>
<line x1="156.3" y1="595.79" x2="166.3" y2="595.79" stroke="#000" stroke-width="1" stroke-linecap="butt"/>
<rect x="192.2" y="586.4" width="17" height="78.1" fill="#000" stroke="none" stroke-width="1"/>
<line x1="200.7" y1="581.71" x2="200.7" y2="586.4" stroke="#000" stroke-width="1" stroke-linecap="butt"/>
<line x1="195.7" y1="581.71" x2="205.7" y2="581.71" stroke="#000" stroke-width="1" stroke-linecap="butt"/>
<rect x="231.6" y="606.63" width="17" height="57.87" fill="#000" stroke="none" stroke-width="1"/>
<line x1="240.1" y1="605.35" x2="240.1" y2="606.63" stroke="#000" stroke-width="1" stroke-linecap="butt"/>
<line x1="235.1" y1="605.35" x2="245.1" y2="605.35" stroke="#000" stroke-width="1" stroke-linecap="butt"/>
<rect x="271" y="615" width="17" height="49.5" fill="#000" stroke="none" stroke-width="1"/>
<line x1="279.5" y1="613.29" x2="279.5" y2="615" stroke="#000" stroke-width="1" stroke-linecap="butt"/>
<line x1="274.5" y1="613.29" x2="284.5" y2="613.29" stroke="#000" stroke-width="1" stroke-linecap="butt"/>
<rect x="310.4" y="607.74" width="17" height="56.76" fill="#000" stroke="none" stroke-width="1"/>
<line x1="318.9" y1="605.18" x2="318.9" y2="607.74" stroke="#000" stroke-width="1" stroke-linecap="butt"/>
<line x1="313.9" y1="605.18" x2="323.9" y2="605.18" stroke="#000" stroke-width="1" stroke-linecap="butt"/>
<line x1="43.4" y1="664.5" x2="335" y2="664.5" stroke="#000" stroke-width="2.9" stroke-linecap="butt"/>
<line x1="73" y1="664.5" x2="73" y2="672.7" stroke="#000" stroke-width="2.3" stroke-linecap="butt"/>
<line x1="112.4" y1="664.5" x2="112.4" y2="672.7" stroke="#000" stroke-width="2.3" stroke-linecap="butt"/>
<line x1="151.8" y1="664.5" x2="151.8" y2="672.7" stroke="#000" stroke-width="2.3" stroke-linecap="butt"/>
<line x1="191.2" y1="664.5" x2="191.2" y2="672.7" stroke="#000" stroke-width="2.3" stroke-linecap="butt"/>
<line x1="230.6" y1="664.5" x2="230.6" y2="672.7" stroke="#000" stroke-width="2.3" stroke-linecap="butt"/>
<line x1="270" y1="664.5" x2="270" y2="672.7" stroke="#000" stroke-width="2.3" stroke-linecap="butt"/>
<line x1="309.4" y1="664.5" x2="309.4" y2="672.7" stroke="#000" stroke-width="2.3" stroke-linecap="butt"/>
<line x1="51.6" y1="492.35" x2="51.6" y2="665.95" stroke="#000" stroke-width="2.9" stroke-linecap="butt"/>
<line x1="43.4" y1="664.5" x2="51.6" y2="664.5" stroke="#000" stroke-width="2.9" stroke-linecap="butt"/>
<text x="42" y="668.99" font-size="10.6" text-anchor="end" fill="#000">0</text>
<line x1="43.4" y1="621.83" x2="51.6" y2="621.83" stroke="#000" stroke-width="2.9" stroke-linecap="butt"/>
<text x="42" y="626.32" font-size="10.6" text-anchor="end" fill="#000">100</text>
<line x1="43.4" y1="579.15" x2="51.6" y2="579.15" stroke="#000" stroke-width="2.9" stroke-linecap="butt"/>
<text x="42" y="583.64" font-size="10.6" text-anchor="end" fill="#000">200</text>
<line x1="43.4" y1="536.48" x2="51.6" y2="536.48" stroke="#000" stroke-width="2.9" stroke-linecap="butt"/>
<text x="42" y="540.97" font-size="10.6" text-anchor="end" fill="#000">300</text>
<line x1="43.4" y1="493.8" x2="51.6" y2="493.8" stroke="#000" stroke-width="2.9" stroke-linecap="butt"/>
<text x="42" y="498.29" font-size="10.6" text-anchor="end" fill="#000">400</text>
<text x="16" y="575" font-size="10.7" text-anchor="middle" transform="rotate(-90 16 575)" fill="#000">Relative expression</text>
<circle cx="57.7" cy="664.07" r="2.3" fill="#fff" stroke="#000" stroke-width="1.5"/>
<circle cx="63.5" cy="664.07" r="2.3" fill="#fff" stroke="#000" stroke-width="1.5"/>
<circle cx="69.3" cy="664.07" r="2.3" fill="#fff" stroke="#000" stroke-width="1.5"/>
<circle cx="82.5" cy="536.9" r="2.3" fill="#fff" stroke="#000" stroke-width="1.5"/>
<circle cx="88.3" cy="535.62" r="2.3" fill="#fff" stroke="#000" stroke-width="1.5"/>
<circle cx="82.5" cy="543.9" r="2.3" fill="#fff" stroke="#000" stroke-width="1.5"/>
<text x="65" y="657.07" font-size="10.6" text-anchor="middle" fill="#000">e</text>
<text x="84" y="530.12" font-size="10.6" text-anchor="middle" fill="#000">a</text>
<text x="75" y="680" font-size="10.7" text-anchor="end" transform="rotate(-38 75 680)" fill="#000">WT</text>
<circle cx="97.1" cy="664.07" r="2.3" fill="#fff" stroke="#000" stroke-width="1.5"/>
<circle cx="102.9" cy="664.07" r="2.3" fill="#fff" stroke="#000" stroke-width="1.5"/>
<circle cx="108.7" cy="664.07" r="2.3" fill="#fff" stroke="#000" stroke-width="1.5"/>
<circle cx="116.1" cy="596.22" r="2.3" fill="#fff" stroke="#000" stroke-width="1.5"/>
<circle cx="121.9" cy="590.25" r="2.3" fill="#fff" stroke="#000" stroke-width="1.5"/>
<circle cx="127.7" cy="596.22" r="2.3" fill="#fff" stroke="#000" stroke-width="1.5"/>
<text x="104.4" y="657.07" font-size="10.6" text-anchor="middle" fill="#000">e</text>
<text x="123.4" y="583.75" font-size="10.6" text-anchor="middle" fill="#000">bc</text>
<text x="114.4" y="680" font-size="10.7" text-anchor="end" font-style="italic" transform="rotate(-38 114.4 680)" fill="#000">med16-3</text>
<circle cx="136.5" cy="664.07" r="2.3" fill="#fff" stroke="#000" stroke-width="1.5"/>
<circle cx="142.3" cy="664.07" r="2.3" fill="#fff" stroke="#000" stroke-width="1.5"/>
<circle cx="148.1" cy="664.07" r="2.3" fill="#fff" stroke="#000" stroke-width="1.5"/>
<circle cx="155.5" cy="599.21" r="2.3" fill="#fff" stroke="#000" stroke-width="1.5"/>
<circle cx="161.3" cy="592.81" r="2.3" fill="#fff" stroke="#000" stroke-width="1.5"/>
<circle cx="167.1" cy="599.21" r="2.3" fill="#fff" stroke="#000" stroke-width="1.5"/>
<text x="143.8" y="657.07" font-size="10.6" text-anchor="middle" fill="#000">e</text>
<text x="162.8" y="585.31" font-size="10.6" text-anchor="middle" fill="#000">bc</text>
<text x="153.8" y="680" font-size="10.7" text-anchor="end" font-style="italic" transform="rotate(-38 153.8 680)" fill="#000">med25-4</text>
<circle cx="175.9" cy="664.07" r="2.3" fill="#fff" stroke="#000" stroke-width="1.5"/>
<circle cx="181.7" cy="664.07" r="2.3" fill="#fff" stroke="#000" stroke-width="1.5"/>
<circle cx="187.5" cy="664.07" r="2.3" fill="#fff" stroke="#000" stroke-width="1.5"/>
<circle cx="200.7" cy="583.97" r="2.3" fill="#fff" stroke="#000" stroke-width="1.5"/>
<circle cx="206.5" cy="581.92" r="2.3" fill="#fff" stroke="#000" stroke-width="1.5"/>
<circle cx="200.7" cy="590.93" r="2.3" fill="#fff" stroke="#000" stroke-width="1.5"/>
<text x="183.2" y="657.07" font-size="10.6" text-anchor="middle" fill="#000">e</text>
<text x="202.2" y="577.71" font-size="10.6" text-anchor="middle" fill="#000">b</text>
<text x="193.2" y="680" font-size="10.7" text-anchor="end" font-style="italic" transform="rotate(-38 193.2 680)" fill="#000">myc2-2</text>
<circle cx="215.3" cy="664.07" r="2.3" fill="#fff" stroke="#000" stroke-width="1.5"/>
<circle cx="221.1" cy="664.07" r="2.3" fill="#fff" stroke="#000" stroke-width="1.5"/>
<circle cx="226.9" cy="664.07" r="2.3" fill="#fff" stroke="#000" stroke-width="1.5"/>
<circle cx="234.3" cy="606.46" r="2.3" fill="#fff" stroke="#000" stroke-width="1.5"/>
<circle cx="240.1" cy="604.33" r="2.3" fill="#fff" stroke="#000" stroke-width="1.5"/>
<circle cx="245.9" cy="606.04" r="2.3" fill="#fff" stroke="#000" stroke-width="1.5"/>
<text x="222.6" y="657.07" font-size="10.6" text-anchor="middle" fill="#000">e</text>
<text x="241.6" y="598.33" font-size="10.6" text-anchor="middle" fill="#000">c</text>
<text x="232.6" y="680" font-size="10.7" text-anchor="end" font-style="italic" transform="rotate(-38 232.6 680)" fill="#000">med16-3 med25-4</text>
<circle cx="254.7" cy="664.07" r="2.3" fill="#fff" stroke="#000" stroke-width="1.5"/>
<circle cx="260.5" cy="664.07" r="2.3" fill="#fff" stroke="#000" stroke-width="1.5"/>
<circle cx="266.3" cy="664.07" r="2.3" fill="#fff" stroke="#000" stroke-width="1.5"/>
<circle cx="273.7" cy="615.85" r="2.3" fill="#fff" stroke="#000" stroke-width="1.5"/>
<circle cx="279.5" cy="612.44" r="2.3" fill="#fff" stroke="#000" stroke-width="1.5"/>
<circle cx="285.3" cy="614.14" r="2.3" fill="#fff" stroke="#000" stroke-width="1.5"/>
<text x="262" y="657.07" font-size="10.6" text-anchor="middle" fill="#000">e</text>
<text x="281" y="606.94" font-size="10.6" text-anchor="middle" fill="#000">d</text>
<text x="272" y="680" font-size="10.7" text-anchor="end" font-style="italic" transform="rotate(-38 272 680)" fill="#000">med16-3 myc2-2</text>
<circle cx="294.1" cy="664.07" r="2.3" fill="#fff" stroke="#000" stroke-width="1.5"/>
<circle cx="299.9" cy="664.07" r="2.3" fill="#fff" stroke="#000" stroke-width="1.5"/>
<circle cx="305.7" cy="664.07" r="2.3" fill="#fff" stroke="#000" stroke-width="1.5"/>
<circle cx="313.1" cy="607.74" r="2.3" fill="#fff" stroke="#000" stroke-width="1.5"/>
<circle cx="318.9" cy="603.47" r="2.3" fill="#fff" stroke="#000" stroke-width="1.5"/>
<circle cx="324.7" cy="607.32" r="2.3" fill="#fff" stroke="#000" stroke-width="1.5"/>
<text x="301.4" y="657.07" font-size="10.6" text-anchor="middle" fill="#000">e</text>
<text x="320.4" y="597.97" font-size="10.6" text-anchor="middle" fill="#000">cd</text>
<text x="311.4" y="680" font-size="10.7" text-anchor="end" font-style="italic" transform="rotate(-38 311.4 680)" fill="#000">med25-4 myc2-2</text>
<rect x="254.3" y="495" width="14" height="8.8" fill="#fff" stroke="#000" stroke-width="1.6"/>
<text x="272" y="503.23" font-size="10.7" text-anchor="start" fill="#000">Control</text>
<rect x="254.3" y="511.1" width="14" height="8.8" fill="#000" stroke="#000" stroke-width="1.6"/>
<text x="272" y="519.33" font-size="10.7" text-anchor="start" fill="#000">MeJA</text>
<text x="358.4" y="480.3" font-size="18.5" text-anchor="start" font-weight="bold" fill="#000">h</text>
<text x="541.5" y="478.7" font-size="10.7" text-anchor="middle" font-style="italic" fill="#000">VSP2</text>
<rect x="410.4" y="658.23" width="15.6" height="4.27" fill="#fff" stroke="#000" stroke-width="1"/>
<rect x="428.5" y="531.49" width="16.6" height="131.01" fill="#000" stroke="none" stroke-width="1"/>
<line x1="436.8" y1="521.25" x2="436.8" y2="531.49" stroke="#000" stroke-width="1" stroke-linecap="butt"/>
<line x1="431.8" y1="521.25" x2="441.8" y2="521.25" stroke="#000" stroke-width="1" stroke-linecap="butt"/>
<rect x="449.05" y="660.79" width="15.6" height="1.71" fill="#fff" stroke="#000" stroke-width="1"/>
<rect x="467.15" y="588.67" width="16.6" height="73.83" fill="#000" stroke="none" stroke-width="1"/>
<line x1="475.45" y1="587.39" x2="475.45" y2="588.67" stroke="#000" stroke-width="1" stroke-linecap="butt"/>
<line x1="470.45" y1="587.39" x2="480.45" y2="587.39" stroke="#000" stroke-width="1" stroke-linecap="butt"/>
<rect x="487.7" y="660.79" width="15.6" height="1.71" fill="#fff" stroke="#000" stroke-width="1"/>
<rect x="505.8" y="601.05" width="16.6" height="61.45" fill="#000" stroke="none" stroke-width="1"/>
<line x1="514.1" y1="600.19" x2="514.1" y2="601.05" stroke="#000" stroke-width="1" stroke-linecap="butt"/>
<line x1="509.1" y1="600.19" x2="519.1" y2="600.19" stroke="#000" stroke-width="1" stroke-linecap="butt"/>
<rect x="526.35" y="658.23" width="15.6" height="4.27" fill="#fff" stroke="#000" stroke-width="1"/>
<rect x="544.45" y="587.39" width="16.6" height="75.11" fill="#000" stroke="none" stroke-width="1"/>
<line x1="552.75" y1="586.97" x2="552.75" y2="587.39" stroke="#000" stroke-width="1" stroke-linecap="butt"/>
<line x1="547.75" y1="586.97" x2="557.75" y2="586.97" stroke="#000" stroke-width="1" stroke-linecap="butt"/>
<rect x="565" y="660.79" width="15.6" height="1.71" fill="#fff" stroke="#000" stroke-width="1"/>
<rect x="583.1" y="598.49" width="16.6" height="64.01" fill="#000" stroke="none" stroke-width="1"/>
<line x1="591.4" y1="597.63" x2="591.4" y2="598.49" stroke="#000" stroke-width="1" stroke-linecap="butt"/>
<line x1="586.4" y1="597.63" x2="596.4" y2="597.63" stroke="#000" stroke-width="1" stroke-linecap="butt"/>
<rect x="603.65" y="660.79" width="15.6" height="1.71" fill="#fff" stroke="#000" stroke-width="1"/>
<rect x="621.75" y="595.07" width="16.6" height="67.43" fill="#000" stroke="none" stroke-width="1"/>
<line x1="630.05" y1="594.22" x2="630.05" y2="595.07" stroke="#000" stroke-width="1" stroke-linecap="butt"/>
<line x1="625.05" y1="594.22" x2="635.05" y2="594.22" stroke="#000" stroke-width="1" stroke-linecap="butt"/>
<rect x="642.3" y="660.79" width="15.6" height="1.71" fill="#fff" stroke="#000" stroke-width="1"/>
<rect x="660.4" y="603.61" width="16.6" height="58.89" fill="#000" stroke="none" stroke-width="1"/>
<line x1="668.7" y1="597.21" x2="668.7" y2="603.61" stroke="#000" stroke-width="1" stroke-linecap="butt"/>
<line x1="663.7" y1="597.21" x2="673.7" y2="597.21" stroke="#000" stroke-width="1" stroke-linecap="butt"/>
<line x1="398.3" y1="662.5" x2="684" y2="662.5" stroke="#000" stroke-width="2.9" stroke-linecap="butt"/>
<line x1="427.5" y1="662.5" x2="427.5" y2="670.7" stroke="#000" stroke-width="2.3" stroke-linecap="butt"/>
<line x1="466.15" y1="662.5" x2="466.15" y2="670.7" stroke="#000" stroke-width="2.3" stroke-linecap="butt"/>
<line x1="504.8" y1="662.5" x2="504.8" y2="670.7" stroke="#000" stroke-width="2.3" stroke-linecap="butt"/>
<line x1="543.45" y1="662.5" x2="543.45" y2="670.7" stroke="#000" stroke-width="2.3" stroke-linecap="butt"/>
<line x1="582.1" y1="662.5" x2="582.1" y2="670.7" stroke="#000" stroke-width="2.3" stroke-linecap="butt"/>
<line x1="620.75" y1="662.5" x2="620.75" y2="670.7" stroke="#000" stroke-width="2.3" stroke-linecap="butt"/>
<line x1="659.4" y1="662.5" x2="659.4" y2="670.7" stroke="#000" stroke-width="2.3" stroke-linecap="butt"/>
<line x1="406.5" y1="490.35" x2="406.5" y2="663.95" stroke="#000" stroke-width="2.9" stroke-linecap="butt"/>
<line x1="398.3" y1="662.5" x2="406.5" y2="662.5" stroke="#000" stroke-width="2.9" stroke-linecap="butt"/>
<text x="395.4" y="666.29" font-size="10.6" text-anchor="end" fill="#000">0</text>
<line x1="398.3" y1="619.83" x2="406.5" y2="619.83" stroke="#000" stroke-width="2.9" stroke-linecap="butt"/>
<text x="395.4" y="623.62" font-size="10.6" text-anchor="end" fill="#000">10</text>
<line x1="398.3" y1="577.15" x2="406.5" y2="577.15" stroke="#000" stroke-width="2.9" stroke-linecap="butt"/>
<text x="395.4" y="580.94" font-size="10.6" text-anchor="end" fill="#000">20</text>
<line x1="398.3" y1="534.48" x2="406.5" y2="534.48" stroke="#000" stroke-width="2.9" stroke-linecap="butt"/>
<text x="395.4" y="538.27" font-size="10.6" text-anchor="end" fill="#000">30</text>
<line x1="398.3" y1="491.8" x2="406.5" y2="491.8" stroke="#000" stroke-width="2.9" stroke-linecap="butt"/>
<text x="395.4" y="495.59" font-size="10.6" text-anchor="end" fill="#000">40</text>
<text x="376.2" y="575.9" font-size="10.7" text-anchor="middle" transform="rotate(-90 376.2 575.9)" fill="#000">Relative expression</text>
<circle cx="412.4" cy="658.23" r="2.3" fill="#fff" stroke="#000" stroke-width="1.5"/>
<circle cx="418.2" cy="658.23" r="2.3" fill="#fff" stroke="#000" stroke-width="1.5"/>
<circle cx="424" cy="658.23" r="2.3" fill="#fff" stroke="#000" stroke-width="1.5"/>
<circle cx="436.8" cy="527.22" r="2.3" fill="#fff" stroke="#000" stroke-width="1.5"/>
<circle cx="442.6" cy="524.23" r="2.3" fill="#fff" stroke="#000" stroke-width="1.5"/>
<circle cx="436.8" cy="541.73" r="2.3" fill="#fff" stroke="#000" stroke-width="1.5"/>
<text x="418.7" y="649.83" font-size="10.6" text-anchor="middle" fill="#000">d</text>
<text x="437.3" y="514.95" font-size="10.6" text-anchor="middle" fill="#000">a</text>
<text x="429.5" y="678" font-size="10.7" text-anchor="end" transform="rotate(-38 429.5 678)" fill="#000">WT</text>
<circle cx="451.05" cy="660.79" r="2.3" fill="#fff" stroke="#000" stroke-width="1.5"/>
<circle cx="456.85" cy="660.79" r="2.3" fill="#fff" stroke="#000" stroke-width="1.5"/>
<circle cx="462.65" cy="660.79" r="2.3" fill="#fff" stroke="#000" stroke-width="1.5"/>
<circle cx="469.65" cy="589.1" r="2.3" fill="#fff" stroke="#000" stroke-width="1.5"/>
<circle cx="475.45" cy="586.54" r="2.3" fill="#fff" stroke="#000" stroke-width="1.5"/>
<circle cx="481.25" cy="587.82" r="2.3" fill="#fff" stroke="#000" stroke-width="1.5"/>
<text x="456.55" y="653.69" font-size="10.6" text-anchor="middle" fill="#000">d</text>
<text x="475.95" y="579.04" font-size="10.6" text-anchor="middle" fill="#000">b</text>
<text x="468.15" y="678" font-size="10.7" text-anchor="end" font-style="italic" transform="rotate(-38 468.15 678)" fill="#000">med16-3</text>
<circle cx="489.7" cy="660.79" r="2.3" fill="#fff" stroke="#000" stroke-width="1.5"/>
<circle cx="495.5" cy="660.79" r="2.3" fill="#fff" stroke="#000" stroke-width="1.5"/>
<circle cx="501.3" cy="660.79" r="2.3" fill="#fff" stroke="#000" stroke-width="1.5"/>
<circle cx="508.3" cy="601.47" r="2.3" fill="#fff" stroke="#000" stroke-width="1.5"/>
<circle cx="514.1" cy="599.77" r="2.3" fill="#fff" stroke="#000" stroke-width="1.5"/>
<circle cx="519.9" cy="601.05" r="2.3" fill="#fff" stroke="#000" stroke-width="1.5"/>
<text x="495.2" y="653.69" font-size="10.6" text-anchor="middle" fill="#000">d</text>
<text x="514.6" y="595.07" font-size="10.6" text-anchor="middle" fill="#000">c</text>
<text x="506.8" y="678" font-size="10.7" text-anchor="end" font-style="italic" transform="rotate(-38 506.8 678)" fill="#000">med25-4</text>
<circle cx="528.35" cy="658.23" r="2.3" fill="#fff" stroke="#000" stroke-width="1.5"/>
<circle cx="534.15" cy="658.23" r="2.3" fill="#fff" stroke="#000" stroke-width="1.5"/>
<circle cx="539.95" cy="658.23" r="2.3" fill="#fff" stroke="#000" stroke-width="1.5"/>
<circle cx="546.95" cy="587.39" r="2.3" fill="#fff" stroke="#000" stroke-width="1.5"/>
<circle cx="552.75" cy="586.54" r="2.3" fill="#fff" stroke="#000" stroke-width="1.5"/>
<circle cx="558.55" cy="586.97" r="2.3" fill="#fff" stroke="#000" stroke-width="1.5"/>
<text x="533.85" y="653.13" font-size="10.6" text-anchor="middle" fill="#000">d</text>
<text x="553.25" y="579.84" font-size="10.6" text-anchor="middle" fill="#000">b</text>
<text x="545.45" y="678" font-size="10.7" text-anchor="end" font-style="italic" transform="rotate(-38 545.45 678)" fill="#000">myc2-2</text>
<circle cx="567" cy="660.79" r="2.3" fill="#fff" stroke="#000" stroke-width="1.5"/>
<circle cx="572.8" cy="660.79" r="2.3" fill="#fff" stroke="#000" stroke-width="1.5"/>
<circle cx="578.6" cy="660.79" r="2.3" fill="#fff" stroke="#000" stroke-width="1.5"/>
<circle cx="585.6" cy="598.49" r="2.3" fill="#fff" stroke="#000" stroke-width="1.5"/>
<circle cx="591.4" cy="596.78" r="2.3" fill="#fff" stroke="#000" stroke-width="1.5"/>
<circle cx="597.2" cy="597.21" r="2.3" fill="#fff" stroke="#000" stroke-width="1.5"/>
<text x="572.5" y="653.69" font-size="10.6" text-anchor="middle" fill="#000">d</text>
<text x="591.9" y="590.48" font-size="10.6" text-anchor="middle" fill="#000">c</text>
<text x="584.1" y="678" font-size="10.7" text-anchor="end" font-style="italic" transform="rotate(-38 584.1 678)" fill="#000">med16-3 med25-4</text>
<circle cx="605.65" cy="660.79" r="2.3" fill="#fff" stroke="#000" stroke-width="1.5"/>
<circle cx="611.45" cy="660.79" r="2.3" fill="#fff" stroke="#000" stroke-width="1.5"/>
<circle cx="617.25" cy="660.79" r="2.3" fill="#fff" stroke="#000" stroke-width="1.5"/>
<circle cx="624.25" cy="595.5" r="2.3" fill="#fff" stroke="#000" stroke-width="1.5"/>
<circle cx="630.05" cy="594.22" r="2.3" fill="#fff" stroke="#000" stroke-width="1.5"/>
<circle cx="635.85" cy="594.65" r="2.3" fill="#fff" stroke="#000" stroke-width="1.5"/>
<text x="611.15" y="653.69" font-size="10.6" text-anchor="middle" fill="#000">d</text>
<text x="630.55" y="588.72" font-size="10.6" text-anchor="middle" fill="#000">c</text>
<text x="622.75" y="678" font-size="10.7" text-anchor="end" font-style="italic" transform="rotate(-38 622.75 678)" fill="#000">med16-3 myc2-2</text>
<circle cx="644.3" cy="660.79" r="2.3" fill="#fff" stroke="#000" stroke-width="1.5"/>
<circle cx="650.1" cy="660.79" r="2.3" fill="#fff" stroke="#000" stroke-width="1.5"/>
<circle cx="655.9" cy="660.79" r="2.3" fill="#fff" stroke="#000" stroke-width="1.5"/>
<circle cx="668.7" cy="599.13" r="2.3" fill="#fff" stroke="#000" stroke-width="1.5"/>
<circle cx="674.5" cy="596.78" r="2.3" fill="#fff" stroke="#000" stroke-width="1.5"/>
<circle cx="668.7" cy="609.33" r="2.3" fill="#fff" stroke="#000" stroke-width="1.5"/>
<text x="649.8" y="653.69" font-size="10.6" text-anchor="middle" fill="#000">d</text>
<text x="669.2" y="592.08" font-size="10.6" text-anchor="middle" fill="#000">c</text>
<text x="661.4" y="678" font-size="10.7" text-anchor="end" font-style="italic" transform="rotate(-38 661.4 678)" fill="#000">med25-4 myc2-2</text>
<rect x="599.4" y="494" width="14" height="9" fill="#fff" stroke="#000" stroke-width="1.6"/>
<text x="617" y="502.33" font-size="10.7" text-anchor="start" fill="#000">Control</text>
<rect x="599.4" y="510.1" width="14" height="9" fill="#000" stroke="#000" stroke-width="1.6"/>
<text x="617" y="518.43" font-size="10.7" text-anchor="start" fill="#000">MeJA</text>
<text x="1.8" y="771.5" font-size="18.5" text-anchor="start" font-weight="bold" fill="#000">i</text>
<text x="208" y="772.7" font-size="10.7" text-anchor="middle" font-style="italic" fill="#000">PDF1.2</text>
<rect x="84" y="908.92" width="16.2" height="46.88" fill="#000" stroke="none" stroke-width="1"/>
<line x1="92.1" y1="907.45" x2="92.1" y2="908.92" stroke="#000" stroke-width="1" stroke-linecap="butt"/>
<line x1="87.1" y1="907.45" x2="97.1" y2="907.45" stroke="#000" stroke-width="1" stroke-linecap="butt"/>
<rect x="196.65" y="845.98" width="16.2" height="109.82" fill="#000" stroke="none" stroke-width="1"/>
<line x1="204.75" y1="844.52" x2="204.75" y2="845.98" stroke="#000" stroke-width="1" stroke-linecap="butt"/>
<line x1="199.75" y1="844.52" x2="209.75" y2="844.52" stroke="#000" stroke-width="1" stroke-linecap="butt"/>
<line x1="54.9" y1="955.8" x2="331" y2="955.8" stroke="#000" stroke-width="2.9" stroke-linecap="butt"/>
<line x1="83" y1="955.8" x2="83" y2="963.4" stroke="#000" stroke-width="2.3" stroke-linecap="butt"/>
<line x1="120.55" y1="955.8" x2="120.55" y2="963.4" stroke="#000" stroke-width="2.3" stroke-linecap="butt"/>
<line x1="158.1" y1="955.8" x2="158.1" y2="963.4" stroke="#000" stroke-width="2.3" stroke-linecap="butt"/>
<line x1="195.65" y1="955.8" x2="195.65" y2="963.4" stroke="#000" stroke-width="2.3" stroke-linecap="butt"/>
<line x1="233.2" y1="955.8" x2="233.2" y2="963.4" stroke="#000" stroke-width="2.3" stroke-linecap="butt"/>
<line x1="270.75" y1="955.8" x2="270.75" y2="963.4" stroke="#000" stroke-width="2.3" stroke-linecap="butt"/>
<line x1="308.3" y1="955.8" x2="308.3" y2="963.4" stroke="#000" stroke-width="2.3" stroke-linecap="butt"/>
<line x1="62.5" y1="797.75" x2="62.5" y2="957.25" stroke="#000" stroke-width="2.9" stroke-linecap="butt"/>
<line x1="54.9" y1="955.8" x2="62.5" y2="955.8" stroke="#000" stroke-width="2.9" stroke-linecap="butt"/>
<text x="54" y="959.59" font-size="10.6" text-anchor="end" fill="#000">0</text>
<line x1="54.9" y1="916.65" x2="62.5" y2="916.65" stroke="#000" stroke-width="2.9" stroke-linecap="butt"/>
<text x="54" y="920.44" font-size="10.6" text-anchor="end" fill="#000">4000</text>
<line x1="54.9" y1="877.5" x2="62.5" y2="877.5" stroke="#000" stroke-width="2.9" stroke-linecap="butt"/>
<text x="54" y="881.29" font-size="10.6" text-anchor="end" fill="#000">8000</text>
<line x1="54.9" y1="838.35" x2="62.5" y2="838.35" stroke="#000" stroke-width="2.9" stroke-linecap="butt"/>
<text x="54" y="842.14" font-size="10.6" text-anchor="end" fill="#000">12000</text>
<line x1="54.9" y1="799.2" x2="62.5" y2="799.2" stroke="#000" stroke-width="2.9" stroke-linecap="butt"/>
<text x="54" y="802.99" font-size="10.6" text-anchor="end" fill="#000">16000</text>
<text x="19.5" y="863.4" font-size="10.7" text-anchor="middle" transform="rotate(-90 19.5 863.4)" fill="#000">Relative expression</text>
<circle cx="68.1" cy="955.79" r="2.3" fill="#fff" stroke="#000" stroke-width="1.5"/>
<circle cx="73.9" cy="955.79" r="2.3" fill="#fff" stroke="#000" stroke-width="1.5"/>
<circle cx="79.7" cy="955.79" r="2.3" fill="#fff" stroke="#000" stroke-width="1.5"/>
<circle cx="86.3" cy="910.78" r="2.3" fill="#fff" stroke="#000" stroke-width="1.5"/>
<circle cx="92.1" cy="906.86" r="2.3" fill="#fff" stroke="#000" stroke-width="1.5"/>
<circle cx="97.9" cy="907.84" r="2.3" fill="#fff" stroke="#000" stroke-width="1.5"/>
<text x="76.4" y="950.29" font-size="10.6" text-anchor="middle" fill="#000">c</text>
<text x="92.6" y="901.36" font-size="10.6" text-anchor="middle" fill="#000">b</text>
<text x="85" y="971.3" font-size="10.7" text-anchor="end" transform="rotate(-38 85 971.3)" fill="#000">WT</text>
<circle cx="105.65" cy="955.79" r="2.3" fill="#fff" stroke="#000" stroke-width="1.5"/>
<circle cx="111.45" cy="955.79" r="2.3" fill="#fff" stroke="#000" stroke-width="1.5"/>
<circle cx="117.25" cy="955.79" r="2.3" fill="#fff" stroke="#000" stroke-width="1.5"/>
<circle cx="123.85" cy="955.79" r="2.3" fill="#fff" stroke="#000" stroke-width="1.5"/>
<circle cx="129.65" cy="955.79" r="2.3" fill="#fff" stroke="#000" stroke-width="1.5"/>
<circle cx="135.45" cy="955.79" r="2.3" fill="#fff" stroke="#000" stroke-width="1.5"/>
<text x="111.95" y="950.29" font-size="10.6" text-anchor="middle" fill="#000">c</text>
<text x="130.15" y="950.29" font-size="10.6" text-anchor="middle" fill="#000">c</text>
<text x="122.55" y="971.3" font-size="10.7" text-anchor="end" font-style="italic" transform="rotate(-38 122.55 971.3)" fill="#000">med16-3</text>
<circle cx="143.2" cy="955.79" r="2.3" fill="#fff" stroke="#000" stroke-width="1.5"/>
<circle cx="149" cy="955.79" r="2.3" fill="#fff" stroke="#000" stroke-width="1.5"/>
<circle cx="154.8" cy="955.79" r="2.3" fill="#fff" stroke="#000" stroke-width="1.5"/>
<circle cx="161.4" cy="955.79" r="2.3" fill="#fff" stroke="#000" stroke-width="1.5"/>
<circle cx="167.2" cy="955.79" r="2.3" fill="#fff" stroke="#000" stroke-width="1.5"/>
<circle cx="173" cy="955.79" r="2.3" fill="#fff" stroke="#000" stroke-width="1.5"/>
<text x="149.5" y="950.29" font-size="10.6" text-anchor="middle" fill="#000">c</text>
<text x="167.7" y="950.29" font-size="10.6" text-anchor="middle" fill="#000">c</text>
<text x="160.1" y="971.3" font-size="10.7" text-anchor="end" font-style="italic" transform="rotate(-38 160.1 971.3)" fill="#000">med25-4</text>
<circle cx="180.75" cy="955.79" r="2.3" fill="#fff" stroke="#000" stroke-width="1.5"/>
<circle cx="186.55" cy="955.79" r="2.3" fill="#fff" stroke="#000" stroke-width="1.5"/>
<circle cx="192.35" cy="955.79" r="2.3" fill="#fff" stroke="#000" stroke-width="1.5"/>
<circle cx="198.95" cy="845.2" r="2.3" fill="#fff" stroke="#000" stroke-width="1.5"/>
<circle cx="204.75" cy="842.75" r="2.3" fill="#fff" stroke="#000" stroke-width="1.5"/>
<circle cx="210.55" cy="843.73" r="2.3" fill="#fff" stroke="#000" stroke-width="1.5"/>
<text x="187.05" y="950.29" font-size="10.6" text-anchor="middle" fill="#000">c</text>
<text x="205.25" y="837.25" font-size="10.6" text-anchor="middle" fill="#000">a</text>
<text x="197.65" y="971.3" font-size="10.7" text-anchor="end" font-style="italic" transform="rotate(-38 197.65 971.3)" fill="#000">myc2-2</text>
<circle cx="218.3" cy="955.79" r="2.3" fill="#fff" stroke="#000" stroke-width="1.5"/>
<circle cx="224.1" cy="955.79" r="2.3" fill="#fff" stroke="#000" stroke-width="1.5"/>
<circle cx="229.9" cy="955.79" r="2.3" fill="#fff" stroke="#000" stroke-width="1.5"/>
<circle cx="236.5" cy="955.79" r="2.3" fill="#fff" stroke="#000" stroke-width="1.5"/>
<circle cx="242.3" cy="955.79" r="2.3" fill="#fff" stroke="#000" stroke-width="1.5"/>
<circle cx="248.1" cy="955.79" r="2.3" fill="#fff" stroke="#000" stroke-width="1.5"/>
<text x="224.6" y="950.29" font-size="10.6" text-anchor="middle" fill="#000">c</text>
<text x="242.8" y="950.29" font-size="10.6" text-anchor="middle" fill="#000">c</text>
<text x="235.2" y="971.3" font-size="10.7" text-anchor="end" font-style="italic" transform="rotate(-38 235.2 971.3)" fill="#000">med16-3 med25-4</text>
<circle cx="255.85" cy="955.79" r="2.3" fill="#fff" stroke="#000" stroke-width="1.5"/>
<circle cx="261.65" cy="955.79" r="2.3" fill="#fff" stroke="#000" stroke-width="1.5"/>
<circle cx="267.45" cy="955.79" r="2.3" fill="#fff" stroke="#000" stroke-width="1.5"/>
<circle cx="274.05" cy="955.79" r="2.3" fill="#fff" stroke="#000" stroke-width="1.5"/>
<circle cx="279.85" cy="955.79" r="2.3" fill="#fff" stroke="#000" stroke-width="1.5"/>
<circle cx="285.65" cy="955.79" r="2.3" fill="#fff" stroke="#000" stroke-width="1.5"/>
<text x="262.15" y="950.29" font-size="10.6" text-anchor="middle" fill="#000">c</text>
<text x="280.35" y="950.29" font-size="10.6" text-anchor="middle" fill="#000">c</text>
<text x="272.75" y="971.3" font-size="10.7" text-anchor="end" font-style="italic" transform="rotate(-38 272.75 971.3)" fill="#000">med16-3 myc2-2</text>
<circle cx="293.4" cy="955.79" r="2.3" fill="#fff" stroke="#000" stroke-width="1.5"/>
<circle cx="299.2" cy="955.79" r="2.3" fill="#fff" stroke="#000" stroke-width="1.5"/>
<circle cx="305" cy="955.79" r="2.3" fill="#fff" stroke="#000" stroke-width="1.5"/>
<circle cx="311.6" cy="955.79" r="2.3" fill="#fff" stroke="#000" stroke-width="1.5"/>
<circle cx="317.4" cy="955.79" r="2.3" fill="#fff" stroke="#000" stroke-width="1.5"/>
<circle cx="323.2" cy="955.79" r="2.3" fill="#fff" stroke="#000" stroke-width="1.5"/>
<text x="299.7" y="950.29" font-size="10.6" text-anchor="middle" fill="#000">c</text>
<text x="317.9" y="950.29" font-size="10.6" text-anchor="middle" fill="#000">c</text>
<text x="310.3" y="971.3" font-size="10.7" text-anchor="end" font-style="italic" transform="rotate(-38 310.3 971.3)" fill="#000">med25-4 myc2-2</text>
<rect x="261" y="795.1" width="14.5" height="9.1" fill="#fff" stroke="#000" stroke-width="1.6"/>
<text x="278.5" y="803.48" font-size="10.7" text-anchor="start" fill="#000">Control</text>
<rect x="261" y="811.7" width="14.5" height="9.1" fill="#000" stroke="#000" stroke-width="1.6"/>
<text x="278.5" y="820.08" font-size="10.7" text-anchor="start" fill="#000">MeJA</text>
<text x="345.8" y="771.1" font-size="18.5" text-anchor="start" font-weight="bold" fill="#000">j</text>
<text x="541.5" y="766.2" font-size="10.7" text-anchor="middle" font-style="italic" fill="#000">Thi2.1</text>
<rect x="429.6" y="921.32" width="16.7" height="35.28" fill="#000" stroke="none" stroke-width="1"/>
<line x1="437.95" y1="920.51" x2="437.95" y2="921.32" stroke="#000" stroke-width="1" stroke-linecap="butt"/>
<line x1="432.95" y1="920.51" x2="442.95" y2="920.51" stroke="#000" stroke-width="1" stroke-linecap="butt"/>
<rect x="468.4" y="939.03" width="16.7" height="17.57" fill="#000" stroke="none" stroke-width="1"/>
<line x1="476.75" y1="937.95" x2="476.75" y2="939.03" stroke="#000" stroke-width="1" stroke-linecap="butt"/>
<line x1="471.75" y1="937.95" x2="481.75" y2="937.95" stroke="#000" stroke-width="1" stroke-linecap="butt"/>
<rect x="507.2" y="939.03" width="16.7" height="17.57" fill="#000" stroke="none" stroke-width="1"/>
<line x1="515.55" y1="938.35" x2="515.55" y2="939.03" stroke="#000" stroke-width="1" stroke-linecap="butt"/>
<line x1="510.55" y1="938.35" x2="520.55" y2="938.35" stroke="#000" stroke-width="1" stroke-linecap="butt"/>
<rect x="546" y="829.54" width="16.7" height="127.06" fill="#000" stroke="none" stroke-width="1"/>
<line x1="554.35" y1="828.73" x2="554.35" y2="829.54" stroke="#000" stroke-width="1" stroke-linecap="butt"/>
<line x1="549.35" y1="828.73" x2="559.35" y2="828.73" stroke="#000" stroke-width="1" stroke-linecap="butt"/>
<rect x="584.8" y="937.95" width="16.7" height="18.65" fill="#000" stroke="none" stroke-width="1"/>
<line x1="593.15" y1="937.41" x2="593.15" y2="937.95" stroke="#000" stroke-width="1" stroke-linecap="butt"/>
<line x1="588.15" y1="937.41" x2="598.15" y2="937.41" stroke="#000" stroke-width="1" stroke-linecap="butt"/>
<rect x="623.6" y="931.46" width="16.7" height="25.14" fill="#000" stroke="none" stroke-width="1"/>
<line x1="631.95" y1="930.65" x2="631.95" y2="931.46" stroke="#000" stroke-width="1" stroke-linecap="butt"/>
<line x1="626.95" y1="930.65" x2="636.95" y2="930.65" stroke="#000" stroke-width="1" stroke-linecap="butt"/>
<rect x="662.4" y="929.84" width="16.7" height="26.76" fill="#000" stroke="none" stroke-width="1"/>
<line x1="670.75" y1="927.13" x2="670.75" y2="929.84" stroke="#000" stroke-width="1" stroke-linecap="butt"/>
<line x1="665.75" y1="927.13" x2="675.75" y2="927.13" stroke="#000" stroke-width="1" stroke-linecap="butt"/>
<line x1="399.8" y1="956.6" x2="684" y2="956.6" stroke="#000" stroke-width="2.9" stroke-linecap="butt"/>
<line x1="428.6" y1="956.6" x2="428.6" y2="963.9" stroke="#000" stroke-width="2.3" stroke-linecap="butt"/>
<line x1="467.4" y1="956.6" x2="467.4" y2="963.9" stroke="#000" stroke-width="2.3" stroke-linecap="butt"/>
<line x1="506.2" y1="956.6" x2="506.2" y2="963.9" stroke="#000" stroke-width="2.3" stroke-linecap="butt"/>
<line x1="545" y1="956.6" x2="545" y2="963.9" stroke="#000" stroke-width="2.3" stroke-linecap="butt"/>
<line x1="583.8" y1="956.6" x2="583.8" y2="963.9" stroke="#000" stroke-width="2.3" stroke-linecap="butt"/>
<line x1="622.6" y1="956.6" x2="622.6" y2="963.9" stroke="#000" stroke-width="2.3" stroke-linecap="butt"/>
<line x1="661.4" y1="956.6" x2="661.4" y2="963.9" stroke="#000" stroke-width="2.3" stroke-linecap="butt"/>
<line x1="408" y1="792.95" x2="408" y2="958.05" stroke="#000" stroke-width="2.9" stroke-linecap="butt"/>
<line x1="399.8" y1="956.6" x2="408" y2="956.6" stroke="#000" stroke-width="2.9" stroke-linecap="butt"/>
<text x="398.7" y="960.39" font-size="10.6" text-anchor="end" fill="#000">0</text>
<line x1="399.8" y1="902.53" x2="408" y2="902.53" stroke="#000" stroke-width="2.9" stroke-linecap="butt"/>
<text x="398.7" y="906.33" font-size="10.6" text-anchor="end" fill="#000">4000</text>
<line x1="399.8" y1="848.47" x2="408" y2="848.47" stroke="#000" stroke-width="2.9" stroke-linecap="butt"/>
<text x="398.7" y="852.26" font-size="10.6" text-anchor="end" fill="#000">8000</text>
<line x1="399.8" y1="794.4" x2="408" y2="794.4" stroke="#000" stroke-width="2.9" stroke-linecap="butt"/>
<text x="398.7" y="798.19" font-size="10.6" text-anchor="end" fill="#000">12000</text>
<text x="366.2" y="860.9" font-size="10.7" text-anchor="middle" transform="rotate(-90 366.2 860.9)" fill="#000">Relative expression</text>
<circle cx="413.45" cy="956.59" r="2.3" fill="#fff" stroke="#000" stroke-width="1.5"/>
<circle cx="419.25" cy="956.59" r="2.3" fill="#fff" stroke="#000" stroke-width="1.5"/>
<circle cx="425.05" cy="956.59" r="2.3" fill="#fff" stroke="#000" stroke-width="1.5"/>
<circle cx="432.15" cy="920.78" r="2.3" fill="#fff" stroke="#000" stroke-width="1.5"/>
<circle cx="437.95" cy="919.83" r="2.3" fill="#fff" stroke="#000" stroke-width="1.5"/>
<circle cx="443.75" cy="920.78" r="2.3" fill="#fff" stroke="#000" stroke-width="1.5"/>
<text x="418.85" y="949.29" font-size="10.6" text-anchor="middle" fill="#000">f</text>
<text x="438.45" y="913.53" font-size="10.6" text-anchor="middle" fill="#000">b</text>
<text x="430.6" y="972.1" font-size="10.7" text-anchor="end" transform="rotate(-38 430.6 972.1)" fill="#000">WT</text>
<circle cx="452.25" cy="956.59" r="2.3" fill="#fff" stroke="#000" stroke-width="1.5"/>
<circle cx="458.05" cy="956.59" r="2.3" fill="#fff" stroke="#000" stroke-width="1.5"/>
<circle cx="463.85" cy="956.59" r="2.3" fill="#fff" stroke="#000" stroke-width="1.5"/>
<circle cx="470.95" cy="940.38" r="2.3" fill="#fff" stroke="#000" stroke-width="1.5"/>
<circle cx="476.75" cy="937.68" r="2.3" fill="#fff" stroke="#000" stroke-width="1.5"/>
<circle cx="482.55" cy="939.03" r="2.3" fill="#fff" stroke="#000" stroke-width="1.5"/>
<text x="457.65" y="949.29" font-size="10.6" text-anchor="middle" fill="#000">f</text>
<text x="477.25" y="932.18" font-size="10.6" text-anchor="middle" fill="#000">d</text>
<text x="469.4" y="972.1" font-size="10.7" text-anchor="end" font-style="italic" transform="rotate(-38 469.4 972.1)" fill="#000">med16-3</text>
<circle cx="491.05" cy="956.59" r="2.3" fill="#fff" stroke="#000" stroke-width="1.5"/>
<circle cx="496.85" cy="956.59" r="2.3" fill="#fff" stroke="#000" stroke-width="1.5"/>
<circle cx="502.65" cy="956.59" r="2.3" fill="#fff" stroke="#000" stroke-width="1.5"/>
<circle cx="509.75" cy="939.3" r="2.3" fill="#fff" stroke="#000" stroke-width="1.5"/>
<circle cx="515.55" cy="937.95" r="2.3" fill="#fff" stroke="#000" stroke-width="1.5"/>
<circle cx="521.35" cy="939.03" r="2.3" fill="#fff" stroke="#000" stroke-width="1.5"/>
<text x="496.45" y="949.29" font-size="10.6" text-anchor="middle" fill="#000">f</text>
<text x="516.05" y="932.45" font-size="10.6" text-anchor="middle" fill="#000">d</text>
<text x="508.2" y="972.1" font-size="10.7" text-anchor="end" font-style="italic" transform="rotate(-38 508.2 972.1)" fill="#000">med25-4</text>
<circle cx="529.85" cy="956.59" r="2.3" fill="#fff" stroke="#000" stroke-width="1.5"/>
<circle cx="535.65" cy="956.59" r="2.3" fill="#fff" stroke="#000" stroke-width="1.5"/>
<circle cx="541.45" cy="956.59" r="2.3" fill="#fff" stroke="#000" stroke-width="1.5"/>
<circle cx="548.55" cy="830.22" r="2.3" fill="#fff" stroke="#000" stroke-width="1.5"/>
<circle cx="554.35" cy="828.87" r="2.3" fill="#fff" stroke="#000" stroke-width="1.5"/>
<circle cx="560.15" cy="828.87" r="2.3" fill="#fff" stroke="#000" stroke-width="1.5"/>
<text x="535.25" y="949.29" font-size="10.6" text-anchor="middle" fill="#000">f</text>
<text x="554.85" y="821.63" font-size="10.6" text-anchor="middle" fill="#000">a</text>
<text x="547" y="972.1" font-size="10.7" text-anchor="end" font-style="italic" transform="rotate(-38 547 972.1)" fill="#000">myc2-2</text>
<circle cx="568.65" cy="956.59" r="2.3" fill="#fff" stroke="#000" stroke-width="1.5"/>
<circle cx="574.45" cy="956.59" r="2.3" fill="#fff" stroke="#000" stroke-width="1.5"/>
<circle cx="580.25" cy="956.59" r="2.3" fill="#fff" stroke="#000" stroke-width="1.5"/>
<circle cx="587.35" cy="937.68" r="2.3" fill="#fff" stroke="#000" stroke-width="1.5"/>
<circle cx="593.15" cy="937" r="2.3" fill="#fff" stroke="#000" stroke-width="1.5"/>
<circle cx="598.95" cy="937.68" r="2.3" fill="#fff" stroke="#000" stroke-width="1.5"/>
<text x="574.05" y="949.29" font-size="10.6" text-anchor="middle" fill="#000">f</text>
<text x="593.65" y="931.5" font-size="10.6" text-anchor="middle" fill="#000">e</text>
<text x="585.8" y="972.1" font-size="10.7" text-anchor="end" font-style="italic" transform="rotate(-38 585.8 972.1)" fill="#000">med16-3 med25-4</text>
<circle cx="607.45" cy="956.59" r="2.3" fill="#fff" stroke="#000" stroke-width="1.5"/>
<circle cx="613.25" cy="956.59" r="2.3" fill="#fff" stroke="#000" stroke-width="1.5"/>
<circle cx="619.05" cy="956.59" r="2.3" fill="#fff" stroke="#000" stroke-width="1.5"/>
<circle cx="626.15" cy="931.59" r="2.3" fill="#fff" stroke="#000" stroke-width="1.5"/>
<circle cx="631.95" cy="930.24" r="2.3" fill="#fff" stroke="#000" stroke-width="1.5"/>
<circle cx="637.75" cy="931.59" r="2.3" fill="#fff" stroke="#000" stroke-width="1.5"/>
<text x="612.85" y="949.29" font-size="10.6" text-anchor="middle" fill="#000">f</text>
<text x="632.45" y="923.94" font-size="10.6" text-anchor="middle" fill="#000">c</text>
<text x="624.6" y="972.1" font-size="10.7" text-anchor="end" font-style="italic" transform="rotate(-38 624.6 972.1)" fill="#000">med16-3 myc2-2</text>
<circle cx="646.25" cy="956.59" r="2.3" fill="#fff" stroke="#000" stroke-width="1.5"/>
<circle cx="652.05" cy="956.59" r="2.3" fill="#fff" stroke="#000" stroke-width="1.5"/>
<circle cx="657.85" cy="956.59" r="2.3" fill="#fff" stroke="#000" stroke-width="1.5"/>
<circle cx="664.95" cy="933.76" r="2.3" fill="#fff" stroke="#000" stroke-width="1.5"/>
<circle cx="670.75" cy="926.19" r="2.3" fill="#fff" stroke="#000" stroke-width="1.5"/>
<circle cx="676.55" cy="928.89" r="2.3" fill="#fff" stroke="#000" stroke-width="1.5"/>
<text x="651.65" y="949.29" font-size="10.6" text-anchor="middle" fill="#000">f</text>
<text x="671.25" y="920.69" font-size="10.6" text-anchor="middle" fill="#000">c</text>
<text x="663.4" y="972.1" font-size="10.7" text-anchor="end" font-style="italic" transform="rotate(-38 663.4 972.1)" fill="#000">med25-4 myc2-2</text>
<rect x="599.8" y="795.1" width="14" height="9.2" fill="#fff" stroke="#000" stroke-width="1.6"/>
<text x="617" y="803.53" font-size="10.7" text-anchor="start" fill="#000">Control</text>
<rect x="599.8" y="811.2" width="14" height="9.2" fill="#000" stroke="#000" stroke-width="1.6"/>
<text x="617" y="819.63" font-size="10.7" text-anchor="start" fill="#000">MeJA</text>
</svg>
</body>
</html>
